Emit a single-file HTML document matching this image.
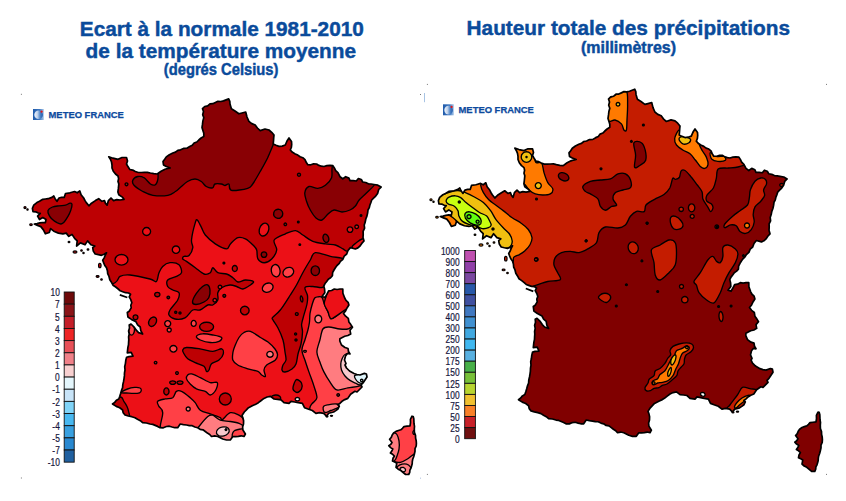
<!DOCTYPE html>
<html><head><meta charset="utf-8"><style>
html,body{margin:0;padding:0;background:#fff}
svg{display:block}
text{font-family:"Liberation Sans",sans-serif}
</style></head><body>
<svg width="846" height="501" viewBox="0 0 846 501">
<defs>
<clipPath id="fr"><path d="M228.7,98.9 L229.8,101.3 L230.0,104.0 L231.4,108.8 L235.0,111.0 L238.9,113.8 L242.0,113.0 L245.7,112.0 L247.0,117.0 L248.9,121.3 L251.8,123.6 L255.2,125.0 L257.4,128.0 L260.2,130.6 L265.0,129.0 L269.0,130.0 L271.7,132.3 L274.0,135.0 L273.7,138.0 L273.5,140.9 L273.2,143.9 L276.0,145.3 L279.0,146.4 L282.2,146.1 L285.3,145.0 L287.0,141.0 L289.0,138.0 L291.5,141.4 L291.7,144.3 L291.4,147.2 L290.3,150.0 L292.5,152.3 L295.3,153.9 L297.8,155.1 L300.1,156.8 L302.8,157.7 L305.0,159.6 L306.2,162.3 L307.8,164.7 L310.8,164.8 L313.6,163.9 L316.6,164.0 L318.9,165.4 L321.4,166.2 L324.0,166.5 L326.9,165.6 L329.9,165.3 L332.9,165.7 L334.5,168.1 L335.7,170.7 L337.9,172.7 L340.0,176.7 L342.8,178.8 L345.7,176.7 L348.9,178.1 L350.0,180.6 L353.2,180.6 L356.3,181.0 L358.4,178.5 L361.3,179.5 L362.7,182.0 L365.7,182.5 L368.4,183.8 L371.2,184.0 L374.0,184.5 L377.8,185.2 L381.1,187.1 L378.7,189.5 L377.6,193.4 L375.7,196.1 L373.3,198.3 L371.7,200.0 L370.9,202.5 L369.9,205.0 L369.3,207.6 L368.0,210.0 L367.6,213.1 L366.9,216.1 L365.8,219.0 L365.2,222.1 L364.2,225.0 L364.6,228.2 L363.1,231.3 L363.2,234.4 L363.0,237.6 L364.0,241.0 L361.8,243.4 L360.0,246.0 L357.9,247.9 L355.4,249.0 L350.4,247.6 L348.0,250.5 L346.7,254.0 L344.2,256.1 L342.9,259.3 L340.4,261.4 L339.0,263.7 L337.0,265.5 L335.4,267.7 L334.0,270.0 L332.6,272.7 L332.4,275.7 L330.6,277.7 L328.3,279.2 L326.7,281.4 L325.0,283.6 L323.8,286.0 L324.6,289.3 L324.8,292.7 L322.0,296.5 L325.0,297.5 L326.9,294.3 L328.6,290.9 L331.6,290.5 L334.3,289.0 L337.1,289.5 L340.0,289.0 L342.8,289.0 L342.9,293.2 L344.7,298.0 L346.0,300.4 L348.1,302.3 L348.9,305.0 L347.0,308.0 L345.6,310.9 L343.5,313.5 L345.6,316.2 L348.3,318.3 L348.9,322.0 L350.8,324.6 L352.5,327.3 L350.0,330.3 L350.7,333.9 L347.9,335.5 L344.7,336.3 L342.3,337.4 L339.9,338.7 L339.8,341.0 L341.5,345.0 L345.0,347.5 L348.0,348.5 L348.5,351.5 L350.0,354.0 L347.5,353.5 L345.5,356.0 L344.5,360.0 L346.0,363.5 L345.0,365.0 L346.5,368.0 L349.5,371.0 L354.0,373.5 L356.9,374.5 L360.0,375.0 L364.4,373.4 L366.4,374.0 L367.0,377.0 L365.0,380.0 L363.0,383.0 L361.0,385.0 L362.0,387.0 L360.0,389.0 L357.0,392.0 L354.9,391.3 L350.6,394.2 L347.8,398.4 L344.8,399.6 L342.0,401.3 L340.1,403.2 L337.9,404.8 L339.3,406.2 L337.9,409.0 L335.8,410.6 L333.6,412.0 L328.7,413.3 L326.5,416.2 L323.7,413.3 L319.4,412.6 L315.9,413.3 L312.3,410.5 L308.0,409.0 L304.5,407.7 L302.4,403.4 L298.2,402.7 L294.6,402.0 L291.0,401.3 L289.0,403.4 L284.0,402.7 L281.0,399.9 L277.5,399.4 L274.0,399.0 L270.5,396.3 L267.1,397.0 L264.0,398.4 L261.2,400.5 L258.4,402.7 L255.7,404.2 L252.8,405.5 L248.5,407.7 L246.4,409.9 L244.3,412.0 L242.0,415.5 L242.9,417.7 L243.6,420.8 L243.5,423.9 L242.6,426.9 L242.9,430.0 L245.4,434.0 L244.0,436.5 L241.2,435.8 L238.4,436.4 L235.6,436.6 L232.8,436.5 L230.3,440.0 L226.5,440.0 L222.8,439.0 L220.3,437.7 L217.8,436.5 L214.7,435.8 L211.5,436.5 L209.7,434.5 L207.4,433.1 L205.3,431.5 L203.0,429.8 L200.1,429.3 L197.7,427.7 L194.9,427.0 L192.2,425.7 L189.3,425.6 L186.5,425.0 L183.3,424.6 L180.2,424.0 L177.7,427.7 L174.8,427.7 L172.1,427.0 L169.3,426.2 L166.4,426.5 L163.3,427.8 L160.0,427.7 L157.6,426.4 L155.2,425.4 L152.7,424.4 L150.0,424.0 L146.4,423.0 L142.6,422.7 L140.3,420.7 L137.5,419.3 L135.0,417.7 L131.7,416.7 L128.3,416.0 L125.0,415.0 L123.2,412.8 L122.6,410.0 L119.7,407.8 L116.3,406.4 L112.5,404.0 L114.7,402.4 L116.4,400.3 L118.8,399.0 L119.8,396.2 L120.7,393.3 L121.5,390.4 L122.6,387.6 L122.8,384.6 L123.5,381.7 L124.0,378.8 L124.4,375.9 L124.5,372.9 L125.0,370.0 L124.7,366.7 L125.4,363.6 L125.8,360.3 L126.6,357.2 L129.0,356.6 L133.0,356.2 L131.2,352.4 L127.3,352.8 L127.6,350.0 L127.9,347.4 L128.5,344.8 L128.6,342.2 L128.8,339.6 L128.6,337.0 L129.2,334.0 L128.6,331.0 L129.5,328.0 L129.2,325.0 L131.0,324.0 L134.4,327.4 L136.3,330.2 L138.6,332.6 L142.6,334.0 L140.8,330.7 L140.2,327.0 L137.6,324.8 L136.0,321.8 L131.4,319.4 L127.9,317.0 L127.3,312.5 L129.2,311.2 L131.2,307.9 L130.8,305.2 L131.8,302.7 L130.8,299.7 L129.2,296.9 L130.5,294.3 L128.6,293.0 L125.6,292.7 L122.7,291.7 L120.2,290.8 L118.2,289.0 L115.7,287.0 L113.0,285.2 L111.5,282.4 L109.8,279.7 L109.0,276.5 L107.7,273.7 L107.4,270.7 L106.5,267.8 L104.8,265.5 L103.7,262.9 L102.7,260.3 L104.2,257.9 L105.2,255.3 L106.5,252.8 L104.1,254.3 L101.5,255.3 L98.3,254.7 L95.2,254.0 L93.3,251.1 L92.7,247.7 L94.8,246.0 L90.9,244.8 L87.6,240.9 L85.0,244.8 L80.5,242.9 L76.6,246.0 L77.2,240.9 L74.6,238.3 L72.0,234.4 L68.8,236.4 L66.2,233.1 L62.9,233.8 L58.4,233.1 L53.8,231.2 L50.6,228.6 L49.3,232.5 L45.4,233.8 L43.4,229.9 L40.8,226.6 L37.5,225.4 L34.3,224.0 L37.1,223.6 L39.8,222.9 L42.6,222.5 L45.4,222.7 L46.0,219.5 L42.8,217.5 L39.5,219.5 L37.6,216.2 L40.2,213.4 L38.2,213.0 L35.7,211.8 L33.0,211.7 L32.4,208.4 L33.7,205.2 L36.9,202.6 L39.5,201.3 L42.8,199.3 L45.4,199.0 L48.0,198.7 L51.9,197.4 L53.8,196.0 L55.1,198.7 L57.0,201.3 L59.0,198.0 L61.6,197.3 L64.2,197.4 L65.5,193.5 L70.0,192.8 L74.6,191.5 L77.2,192.8 L79.8,190.9 L81.1,194.8 L83.7,198.0 L84.9,200.4 L86.3,202.6 L88.9,205.8 L91.5,203.2 L95.4,200.6 L98.7,198.7 L101.9,201.3 L104.5,200.6 L105.4,203.1 L107.1,205.2 L108.4,200.6 L111.0,198.0 L113.6,200.6 L116.8,199.6 L120.1,200.0 L124.0,199.3 L122.7,197.4 L118.8,194.8 L117.9,191.9 L118.3,188.9 L118.8,184.0 L118.0,181.4 L118.6,178.6 L118.0,176.0 L115.5,174.0 L113.3,171.2 L112.0,168.0 L112.0,165.0 L111.5,162.0 L110.4,159.3 L108.8,156.8 L113.0,158.2 L118.0,159.3 L122.0,157.5 L126.5,157.5 L127.5,161.0 L126.5,164.0 L128.1,166.8 L129.8,169.5 L132.7,170.1 L135.3,171.5 L138.3,172.5 L141.3,172.5 L144.4,172.4 L147.4,172.3 L150.4,173.0 L153.8,173.7 L157.2,174.0 L161.1,171.2 L165.0,169.3 L167.6,168.5 L170.2,168.0 L166.3,166.5 L163.5,165.0 L163.0,161.5 L164.7,159.3 L166.3,156.9 L169.4,154.7 L172.8,153.0 L175.5,152.1 L177.8,150.3 L180.6,149.8 L183.5,148.4 L186.9,148.2 L189.7,146.5 L192.3,145.3 L194.1,143.0 L196.8,142.0 L198.8,140.0 L201.1,138.0 L203.8,136.4 L203.8,133.3 L202.9,130.5 L202.0,127.6 L202.5,124.2 L202.9,120.9 L203.8,117.6 L202.7,114.7 L203.5,111.5 L202.5,108.6 L204.7,106.5 L207.7,105.8 L210.0,103.8 L212.8,103.7 L215.4,102.5 L217.9,101.3 L220.8,101.5 L223.5,100.9 L226.1,99.9Z M412.0,416.2 L410.4,419.4 L410.5,422.6 L410.0,425.8 L407.0,426.2 L404.0,426.6 L402.5,428.3 L400.8,429.8 L398.4,430.5 L396.0,431.4 L393.6,433.0 L392.2,435.0 L391.3,437.4 L389.6,439.3 L392.0,442.5 L390.7,444.4 L388.8,445.7 L390.6,447.6 L392.8,449.0 L391.8,451.1 L390.4,453.0 L392.6,454.3 L394.4,456.0 L393.0,458.3 L392.5,461.0 L394.7,462.1 L396.8,463.3 L396.0,467.3 L398.2,469.2 L400.8,470.5 L403.2,472.5 L405.6,474.5 L408.8,474.5 L409.7,472.4 L409.9,470.1 L411.0,468.0 L411.6,465.9 L412.2,463.7 L412.3,461.5 L412.7,459.3 L413.7,456.7 L414.4,454.0 L415.0,451.3 L415.0,448.6 L416.2,446.0 L416.4,443.3 L416.2,440.7 L415.6,438.1 L415.5,435.4 L414.4,432.3 L414.3,429.0 L414.5,426.3 L414.0,423.7 L413.9,421.0 L413.8,418.7 L413.2,416.5Z"/></clipPath>
<clipPath id="fr2"><path d="M228.7,98.9 L229.8,101.3 L230.0,104.0 L231.4,108.8 L235.0,111.0 L238.9,113.8 L242.0,113.0 L245.7,112.0 L247.0,117.0 L248.9,121.3 L251.8,123.6 L255.2,125.0 L257.4,128.0 L260.2,130.6 L265.0,129.0 L269.0,130.0 L271.7,132.3 L274.0,135.0 L273.7,138.0 L273.5,140.9 L273.2,143.9 L276.0,145.3 L279.0,146.4 L282.2,146.1 L285.3,145.0 L287.0,141.0 L289.0,138.0 L291.5,141.4 L291.7,144.3 L291.4,147.2 L290.3,150.0 L292.5,152.3 L295.3,153.9 L297.8,155.1 L300.1,156.8 L302.8,157.7 L305.0,159.6 L306.2,162.3 L307.8,164.7 L310.8,164.8 L313.6,163.9 L316.6,164.0 L318.9,165.4 L321.4,166.2 L324.0,166.5 L326.9,165.6 L329.9,165.3 L332.9,165.7 L334.5,168.1 L335.7,170.7 L337.9,172.7 L340.0,176.7 L342.8,178.8 L345.7,176.7 L348.9,178.1 L350.0,180.6 L353.2,180.6 L356.3,181.0 L358.4,178.5 L361.3,179.5 L362.7,182.0 L365.7,182.5 L368.4,183.8 L371.2,184.0 L374.0,184.5 L377.8,185.2 L381.1,187.1 L378.7,189.5 L377.6,193.4 L375.7,196.1 L373.3,198.3 L371.7,200.0 L370.9,202.5 L369.9,205.0 L369.3,207.6 L368.0,210.0 L367.6,213.1 L366.9,216.1 L365.8,219.0 L365.2,222.1 L364.2,225.0 L364.6,228.2 L363.1,231.3 L363.2,234.4 L363.0,237.6 L364.0,241.0 L361.8,243.4 L360.0,246.0 L357.9,247.9 L355.4,249.0 L350.4,247.6 L348.0,250.5 L346.7,254.0 L344.2,256.1 L342.9,259.3 L340.4,261.4 L339.0,263.7 L337.0,265.5 L335.4,267.7 L334.0,270.0 L332.6,272.7 L332.4,275.7 L330.6,277.7 L328.3,279.2 L326.7,281.4 L325.0,283.6 L323.8,286.0 L324.6,289.3 L324.8,292.7 L322.0,296.5 L325.0,297.5 L326.9,294.3 L328.6,290.9 L331.6,290.5 L334.3,289.0 L337.1,289.5 L340.0,289.0 L342.8,289.0 L342.9,293.2 L344.7,298.0 L346.0,300.4 L348.1,302.3 L348.9,305.0 L347.0,308.0 L345.6,310.9 L343.5,313.5 L345.6,316.2 L348.3,318.3 L348.9,322.0 L350.8,324.6 L352.5,327.3 L350.0,330.3 L350.7,333.9 L347.9,335.5 L344.7,336.3 L342.3,337.4 L339.9,338.7 L339.8,341.0 L341.5,345.0 L345.0,347.5 L348.0,348.5 L348.5,351.5 L350.0,354.0 L347.5,353.5 L345.5,356.0 L344.5,360.0 L346.0,363.5 L345.0,365.0 L346.5,368.0 L349.5,371.0 L354.0,373.5 L356.9,374.5 L360.0,375.0 L364.4,373.4 L366.4,374.0 L367.0,377.0 L365.0,380.0 L363.0,383.0 L361.0,385.0 L362.0,387.0 L360.0,389.0 L357.0,392.0 L354.9,391.3 L350.6,394.2 L347.8,398.4 L344.8,399.6 L342.0,401.3 L340.1,403.2 L337.9,404.8 L339.3,406.2 L337.9,409.0 L335.8,410.6 L333.6,412.0 L328.7,413.3 L326.5,416.2 L323.7,413.3 L319.4,412.6 L315.9,413.3 L312.3,410.5 L308.0,409.0 L304.5,407.7 L302.4,403.4 L298.2,402.7 L294.6,402.0 L291.0,401.3 L289.0,403.4 L284.0,402.7 L281.0,399.9 L277.5,399.4 L274.0,399.0 L270.5,396.3 L267.1,397.0 L264.0,398.4 L261.2,400.5 L258.4,402.7 L255.7,404.2 L252.8,405.5 L248.5,407.7 L246.4,409.9 L244.3,412.0 L242.0,415.5 L242.9,417.7 L243.6,420.8 L243.5,423.9 L242.6,426.9 L242.9,430.0 L245.4,434.0 L244.0,436.5 L241.2,435.8 L238.4,436.4 L235.6,436.6 L232.8,436.5 L230.3,440.0 L226.5,440.0 L222.8,439.0 L220.3,437.7 L217.8,436.5 L214.7,435.8 L211.5,436.5 L209.7,434.5 L207.4,433.1 L205.3,431.5 L203.0,429.8 L200.1,429.3 L197.7,427.7 L194.9,427.0 L192.2,425.7 L189.3,425.6 L186.5,425.0 L183.3,424.6 L180.2,424.0 L177.7,427.7 L174.8,427.7 L172.1,427.0 L169.3,426.2 L166.4,426.5 L163.3,427.8 L160.0,427.7 L157.6,426.4 L155.2,425.4 L152.7,424.4 L150.0,424.0 L146.4,423.0 L142.6,422.7 L140.3,420.7 L137.5,419.3 L135.0,417.7 L131.7,416.7 L128.3,416.0 L125.0,415.0 L123.2,412.8 L122.6,410.0 L119.7,407.8 L116.3,406.4 L112.5,404.0 L114.7,402.4 L116.4,400.3 L118.8,399.0 L119.8,396.2 L120.7,393.3 L121.5,390.4 L122.6,387.6 L122.8,384.6 L123.5,381.7 L124.0,378.8 L124.4,375.9 L124.5,372.9 L125.0,370.0 L124.7,366.7 L125.4,363.6 L125.8,360.3 L126.6,357.2 L129.0,356.6 L133.0,356.2 L131.2,352.4 L127.3,352.8 L127.6,350.0 L127.9,347.4 L128.5,344.8 L128.6,342.2 L128.8,339.6 L128.6,337.0 L129.2,334.0 L128.6,331.0 L129.5,328.0 L129.2,325.0 L131.0,324.0 L134.4,327.4 L136.3,330.2 L138.6,332.6 L142.6,334.0 L140.8,330.7 L140.2,327.0 L137.6,324.8 L136.0,321.8 L131.4,319.4 L127.9,317.0 L127.3,312.5 L129.2,311.2 L131.2,307.9 L130.8,305.2 L131.8,302.7 L130.8,299.7 L129.2,296.9 L130.5,294.3 L128.6,293.0 L125.6,292.7 L122.7,291.7 L120.2,290.8 L118.2,289.0 L115.7,287.0 L113.0,285.2 L111.5,282.4 L109.8,279.7 L109.0,276.5 L107.7,273.7 L107.4,270.7 L106.5,267.8 L104.8,265.5 L103.7,262.9 L102.7,260.3 L104.2,257.9 L105.2,255.3 L106.5,252.8 L104.1,254.3 L101.5,255.3 L98.3,254.7 L95.2,254.0 L93.3,251.1 L92.7,247.7 L94.8,246.0 L90.9,244.8 L87.6,240.9 L85.0,244.8 L80.5,242.9 L76.6,246.0 L77.2,240.9 L74.6,238.3 L72.0,234.4 L68.8,236.4 L66.2,233.1 L62.9,233.8 L58.4,233.1 L53.8,231.2 L50.6,228.6 L49.3,232.5 L45.4,233.8 L43.4,229.9 L40.8,226.6 L37.5,225.4 L34.3,224.0 L37.1,223.6 L39.8,222.9 L42.6,222.5 L45.4,222.7 L46.0,219.5 L42.8,217.5 L39.5,219.5 L37.6,216.2 L40.2,213.4 L38.2,213.0 L35.7,211.8 L33.0,211.7 L32.4,208.4 L33.7,205.2 L36.9,202.6 L39.5,201.3 L42.8,199.3 L45.4,199.0 L48.0,198.7 L51.9,197.4 L53.8,196.0 L55.1,198.7 L57.0,201.3 L59.0,198.0 L61.6,197.3 L64.2,197.4 L65.5,193.5 L70.0,192.8 L74.6,191.5 L77.2,192.8 L79.8,190.9 L81.1,194.8 L83.7,198.0 L84.9,200.4 L86.3,202.6 L88.9,205.8 L91.5,203.2 L95.4,200.6 L98.7,198.7 L101.9,201.3 L104.5,200.6 L105.4,203.1 L107.1,205.2 L108.4,200.6 L111.0,198.0 L113.6,200.6 L116.8,199.6 L120.1,200.0 L124.0,199.3 L122.7,197.4 L118.8,194.8 L117.9,191.9 L118.3,188.9 L118.8,184.0 L118.0,181.4 L118.6,178.6 L118.0,176.0 L115.5,174.0 L113.3,171.2 L112.0,168.0 L112.0,165.0 L111.5,162.0 L110.4,159.3 L108.8,156.8 L113.0,158.2 L118.0,159.3 L122.0,157.5 L126.5,157.5 L127.5,161.0 L126.5,164.0 L128.1,166.8 L129.8,169.5 L132.7,170.1 L135.3,171.5 L138.3,172.5 L141.3,172.5 L144.4,172.4 L147.4,172.3 L150.4,173.0 L153.8,173.7 L157.2,174.0 L161.1,171.2 L165.0,169.3 L167.6,168.5 L170.2,168.0 L166.3,166.5 L163.5,165.0 L163.0,161.5 L164.7,159.3 L166.3,156.9 L169.4,154.7 L172.8,153.0 L175.5,152.1 L177.8,150.3 L180.6,149.8 L183.5,148.4 L186.9,148.2 L189.7,146.5 L192.3,145.3 L194.1,143.0 L196.8,142.0 L198.8,140.0 L201.1,138.0 L203.8,136.4 L203.8,133.3 L202.9,130.5 L202.0,127.6 L202.5,124.2 L202.9,120.9 L203.8,117.6 L202.7,114.7 L203.5,111.5 L202.5,108.6 L204.7,106.5 L207.7,105.8 L210.0,103.8 L212.8,103.7 L215.4,102.5 L217.9,101.3 L220.8,101.5 L223.5,100.9 L226.1,99.9Z M412.0,416.2 L410.4,419.4 L410.5,422.6 L410.0,425.8 L407.0,426.2 L404.0,426.6 L402.5,428.3 L400.8,429.8 L398.4,430.5 L396.0,431.4 L393.6,433.0 L392.2,435.0 L391.3,437.4 L389.6,439.3 L392.0,442.5 L390.7,444.4 L388.8,445.7 L390.6,447.6 L392.8,449.0 L391.8,451.1 L390.4,453.0 L392.6,454.3 L394.4,456.0 L393.0,458.3 L392.5,461.0 L394.7,462.1 L396.8,463.3 L396.0,467.3 L398.2,469.2 L400.8,470.5 L403.2,472.5 L405.6,474.5 L408.8,474.5 L409.7,472.4 L409.9,470.1 L411.0,468.0 L411.6,465.9 L412.2,463.7 L412.3,461.5 L412.7,459.3 L413.7,456.7 L414.4,454.0 L415.0,451.3 L415.0,448.6 L416.2,446.0 L416.4,443.3 L416.2,440.7 L415.6,438.1 L415.5,435.4 L414.4,432.3 L414.3,429.0 L414.5,426.3 L414.0,423.7 L413.9,421.0 L413.8,418.7 L413.2,416.5Z" transform="translate(406,-11.44) scale(1,1.0176)"/></clipPath>
<path id="ol" d="M228.7,98.9 L229.8,101.3 L230.0,104.0 L231.4,108.8 L235.0,111.0 L238.9,113.8 L242.0,113.0 L245.7,112.0 L247.0,117.0 L248.9,121.3 L251.8,123.6 L255.2,125.0 L257.4,128.0 L260.2,130.6 L265.0,129.0 L269.0,130.0 L271.7,132.3 L274.0,135.0 L273.7,138.0 L273.5,140.9 L273.2,143.9 L276.0,145.3 L279.0,146.4 L282.2,146.1 L285.3,145.0 L287.0,141.0 L289.0,138.0 L291.5,141.4 L291.7,144.3 L291.4,147.2 L290.3,150.0 L292.5,152.3 L295.3,153.9 L297.8,155.1 L300.1,156.8 L302.8,157.7 L305.0,159.6 L306.2,162.3 L307.8,164.7 L310.8,164.8 L313.6,163.9 L316.6,164.0 L318.9,165.4 L321.4,166.2 L324.0,166.5 L326.9,165.6 L329.9,165.3 L332.9,165.7 L334.5,168.1 L335.7,170.7 L337.9,172.7 L340.0,176.7 L342.8,178.8 L345.7,176.7 L348.9,178.1 L350.0,180.6 L353.2,180.6 L356.3,181.0 L358.4,178.5 L361.3,179.5 L362.7,182.0 L365.7,182.5 L368.4,183.8 L371.2,184.0 L374.0,184.5 L377.8,185.2 L381.1,187.1 L378.7,189.5 L377.6,193.4 L375.7,196.1 L373.3,198.3 L371.7,200.0 L370.9,202.5 L369.9,205.0 L369.3,207.6 L368.0,210.0 L367.6,213.1 L366.9,216.1 L365.8,219.0 L365.2,222.1 L364.2,225.0 L364.6,228.2 L363.1,231.3 L363.2,234.4 L363.0,237.6 L364.0,241.0 L361.8,243.4 L360.0,246.0 L357.9,247.9 L355.4,249.0 L350.4,247.6 L348.0,250.5 L346.7,254.0 L344.2,256.1 L342.9,259.3 L340.4,261.4 L339.0,263.7 L337.0,265.5 L335.4,267.7 L334.0,270.0 L332.6,272.7 L332.4,275.7 L330.6,277.7 L328.3,279.2 L326.7,281.4 L325.0,283.6 L323.8,286.0 L324.6,289.3 L324.8,292.7 L322.0,296.5 L325.0,297.5 L326.9,294.3 L328.6,290.9 L331.6,290.5 L334.3,289.0 L337.1,289.5 L340.0,289.0 L342.8,289.0 L342.9,293.2 L344.7,298.0 L346.0,300.4 L348.1,302.3 L348.9,305.0 L347.0,308.0 L345.6,310.9 L343.5,313.5 L345.6,316.2 L348.3,318.3 L348.9,322.0 L350.8,324.6 L352.5,327.3 L350.0,330.3 L350.7,333.9 L347.9,335.5 L344.7,336.3 L342.3,337.4 L339.9,338.7 L339.8,341.0 L341.5,345.0 L345.0,347.5 L348.0,348.5 L348.5,351.5 L350.0,354.0 L347.5,353.5 L345.5,356.0 L344.5,360.0 L346.0,363.5 L345.0,365.0 L346.5,368.0 L349.5,371.0 L354.0,373.5 L356.9,374.5 L360.0,375.0 L364.4,373.4 L366.4,374.0 L367.0,377.0 L365.0,380.0 L363.0,383.0 L361.0,385.0 L362.0,387.0 L360.0,389.0 L357.0,392.0 L354.9,391.3 L350.6,394.2 L347.8,398.4 L344.8,399.6 L342.0,401.3 L340.1,403.2 L337.9,404.8 L339.3,406.2 L337.9,409.0 L335.8,410.6 L333.6,412.0 L328.7,413.3 L326.5,416.2 L323.7,413.3 L319.4,412.6 L315.9,413.3 L312.3,410.5 L308.0,409.0 L304.5,407.7 L302.4,403.4 L298.2,402.7 L294.6,402.0 L291.0,401.3 L289.0,403.4 L284.0,402.7 L281.0,399.9 L277.5,399.4 L274.0,399.0 L270.5,396.3 L267.1,397.0 L264.0,398.4 L261.2,400.5 L258.4,402.7 L255.7,404.2 L252.8,405.5 L248.5,407.7 L246.4,409.9 L244.3,412.0 L242.0,415.5 L242.9,417.7 L243.6,420.8 L243.5,423.9 L242.6,426.9 L242.9,430.0 L245.4,434.0 L244.0,436.5 L241.2,435.8 L238.4,436.4 L235.6,436.6 L232.8,436.5 L230.3,440.0 L226.5,440.0 L222.8,439.0 L220.3,437.7 L217.8,436.5 L214.7,435.8 L211.5,436.5 L209.7,434.5 L207.4,433.1 L205.3,431.5 L203.0,429.8 L200.1,429.3 L197.7,427.7 L194.9,427.0 L192.2,425.7 L189.3,425.6 L186.5,425.0 L183.3,424.6 L180.2,424.0 L177.7,427.7 L174.8,427.7 L172.1,427.0 L169.3,426.2 L166.4,426.5 L163.3,427.8 L160.0,427.7 L157.6,426.4 L155.2,425.4 L152.7,424.4 L150.0,424.0 L146.4,423.0 L142.6,422.7 L140.3,420.7 L137.5,419.3 L135.0,417.7 L131.7,416.7 L128.3,416.0 L125.0,415.0 L123.2,412.8 L122.6,410.0 L119.7,407.8 L116.3,406.4 L112.5,404.0 L114.7,402.4 L116.4,400.3 L118.8,399.0 L119.8,396.2 L120.7,393.3 L121.5,390.4 L122.6,387.6 L122.8,384.6 L123.5,381.7 L124.0,378.8 L124.4,375.9 L124.5,372.9 L125.0,370.0 L124.7,366.7 L125.4,363.6 L125.8,360.3 L126.6,357.2 L129.0,356.6 L133.0,356.2 L131.2,352.4 L127.3,352.8 L127.6,350.0 L127.9,347.4 L128.5,344.8 L128.6,342.2 L128.8,339.6 L128.6,337.0 L129.2,334.0 L128.6,331.0 L129.5,328.0 L129.2,325.0 L131.0,324.0 L134.4,327.4 L136.3,330.2 L138.6,332.6 L142.6,334.0 L140.8,330.7 L140.2,327.0 L137.6,324.8 L136.0,321.8 L131.4,319.4 L127.9,317.0 L127.3,312.5 L129.2,311.2 L131.2,307.9 L130.8,305.2 L131.8,302.7 L130.8,299.7 L129.2,296.9 L130.5,294.3 L128.6,293.0 L125.6,292.7 L122.7,291.7 L120.2,290.8 L118.2,289.0 L115.7,287.0 L113.0,285.2 L111.5,282.4 L109.8,279.7 L109.0,276.5 L107.7,273.7 L107.4,270.7 L106.5,267.8 L104.8,265.5 L103.7,262.9 L102.7,260.3 L104.2,257.9 L105.2,255.3 L106.5,252.8 L104.1,254.3 L101.5,255.3 L98.3,254.7 L95.2,254.0 L93.3,251.1 L92.7,247.7 L94.8,246.0 L90.9,244.8 L87.6,240.9 L85.0,244.8 L80.5,242.9 L76.6,246.0 L77.2,240.9 L74.6,238.3 L72.0,234.4 L68.8,236.4 L66.2,233.1 L62.9,233.8 L58.4,233.1 L53.8,231.2 L50.6,228.6 L49.3,232.5 L45.4,233.8 L43.4,229.9 L40.8,226.6 L37.5,225.4 L34.3,224.0 L37.1,223.6 L39.8,222.9 L42.6,222.5 L45.4,222.7 L46.0,219.5 L42.8,217.5 L39.5,219.5 L37.6,216.2 L40.2,213.4 L38.2,213.0 L35.7,211.8 L33.0,211.7 L32.4,208.4 L33.7,205.2 L36.9,202.6 L39.5,201.3 L42.8,199.3 L45.4,199.0 L48.0,198.7 L51.9,197.4 L53.8,196.0 L55.1,198.7 L57.0,201.3 L59.0,198.0 L61.6,197.3 L64.2,197.4 L65.5,193.5 L70.0,192.8 L74.6,191.5 L77.2,192.8 L79.8,190.9 L81.1,194.8 L83.7,198.0 L84.9,200.4 L86.3,202.6 L88.9,205.8 L91.5,203.2 L95.4,200.6 L98.7,198.7 L101.9,201.3 L104.5,200.6 L105.4,203.1 L107.1,205.2 L108.4,200.6 L111.0,198.0 L113.6,200.6 L116.8,199.6 L120.1,200.0 L124.0,199.3 L122.7,197.4 L118.8,194.8 L117.9,191.9 L118.3,188.9 L118.8,184.0 L118.0,181.4 L118.6,178.6 L118.0,176.0 L115.5,174.0 L113.3,171.2 L112.0,168.0 L112.0,165.0 L111.5,162.0 L110.4,159.3 L108.8,156.8 L113.0,158.2 L118.0,159.3 L122.0,157.5 L126.5,157.5 L127.5,161.0 L126.5,164.0 L128.1,166.8 L129.8,169.5 L132.7,170.1 L135.3,171.5 L138.3,172.5 L141.3,172.5 L144.4,172.4 L147.4,172.3 L150.4,173.0 L153.8,173.7 L157.2,174.0 L161.1,171.2 L165.0,169.3 L167.6,168.5 L170.2,168.0 L166.3,166.5 L163.5,165.0 L163.0,161.5 L164.7,159.3 L166.3,156.9 L169.4,154.7 L172.8,153.0 L175.5,152.1 L177.8,150.3 L180.6,149.8 L183.5,148.4 L186.9,148.2 L189.7,146.5 L192.3,145.3 L194.1,143.0 L196.8,142.0 L198.8,140.0 L201.1,138.0 L203.8,136.4 L203.8,133.3 L202.9,130.5 L202.0,127.6 L202.5,124.2 L202.9,120.9 L203.8,117.6 L202.7,114.7 L203.5,111.5 L202.5,108.6 L204.7,106.5 L207.7,105.8 L210.0,103.8 L212.8,103.7 L215.4,102.5 L217.9,101.3 L220.8,101.5 L223.5,100.9 L226.1,99.9Z M412.0,416.2 L410.4,419.4 L410.5,422.6 L410.0,425.8 L407.0,426.2 L404.0,426.6 L402.5,428.3 L400.8,429.8 L398.4,430.5 L396.0,431.4 L393.6,433.0 L392.2,435.0 L391.3,437.4 L389.6,439.3 L392.0,442.5 L390.7,444.4 L388.8,445.7 L390.6,447.6 L392.8,449.0 L391.8,451.1 L390.4,453.0 L392.6,454.3 L394.4,456.0 L393.0,458.3 L392.5,461.0 L394.7,462.1 L396.8,463.3 L396.0,467.3 L398.2,469.2 L400.8,470.5 L403.2,472.5 L405.6,474.5 L408.8,474.5 L409.7,472.4 L409.9,470.1 L411.0,468.0 L411.6,465.9 L412.2,463.7 L412.3,461.5 L412.7,459.3 L413.7,456.7 L414.4,454.0 L415.0,451.3 L415.0,448.6 L416.2,446.0 L416.4,443.3 L416.2,440.7 L415.6,438.1 L415.5,435.4 L414.4,432.3 L414.3,429.0 L414.5,426.3 L414.0,423.7 L413.9,421.0 L413.8,418.7 L413.2,416.5Z"/>
</defs>
<rect width="846" height="501" fill="#fff"/>
<g>
<g clip-path="url(#fr)" stroke="#000" stroke-width="1.35" stroke-linejoin="round">
<rect x="0" y="60" width="440" height="440" fill="#ec1017" stroke="none"/>
<path d="M95.0,292.0 C98.3,290.4 110.8,285.3 115.0,282.7 C119.2,280.1 117.5,277.7 120.0,276.4 C122.5,275.1 125.0,274.6 130.0,275.0 C135.0,275.4 145.6,277.9 150.0,279.0 C154.4,280.1 154.9,282.6 156.4,281.5 C157.9,280.4 157.9,275.2 159.0,272.7 C160.1,270.2 160.9,268.1 162.7,266.4 C164.5,264.7 167.3,263.0 170.0,262.7 C172.7,262.4 177.1,263.0 179.0,264.7 C180.9,266.4 181.9,270.8 181.5,272.7 C181.1,274.6 178.8,275.2 176.5,276.4 C174.2,277.6 169.2,278.3 167.7,280.0 C166.2,281.7 166.9,284.8 167.7,286.5 C168.5,288.2 170.8,289.0 172.7,290.0 C174.6,291.0 178.2,291.0 179.0,292.7 C179.8,294.4 179.2,297.1 177.7,300.0 C176.2,302.9 171.4,307.5 170.0,310.0 C168.6,312.5 168.2,313.5 169.0,315.0 C169.8,316.5 172.3,318.5 175.0,319.0 C177.7,319.5 182.0,319.3 185.0,317.8 C188.0,316.3 190.3,311.3 192.8,310.0 C195.3,308.7 197.5,310.8 200.0,310.0 C202.5,309.2 205.7,305.8 207.8,305.0 C209.9,304.2 211.1,305.8 212.8,305.0 C214.5,304.2 217.0,302.1 217.8,300.0 C218.6,297.9 217.2,294.8 217.8,292.7 C218.4,290.6 219.6,289.0 221.6,287.7 C223.6,286.4 227.5,285.2 230.0,285.0 C232.5,284.8 234.4,285.8 236.6,286.5 C238.8,287.2 240.6,289.2 242.9,289.0 C245.2,288.8 248.7,286.2 250.4,285.0 C252.2,283.8 254.2,282.3 253.4,281.5 C252.6,280.7 248.0,279.9 245.4,280.0 C242.8,280.1 240.0,282.4 237.9,282.0 C235.8,281.6 234.8,279.0 232.9,277.7 C231.0,276.4 229.1,274.8 226.6,274.0 C224.1,273.2 220.1,273.8 217.8,272.7 C215.5,271.6 214.1,267.7 212.8,267.7 C211.6,267.7 211.8,271.6 210.3,272.7 C208.8,273.8 206.5,274.8 204.0,274.0 C201.5,273.2 198.2,269.8 195.3,267.7 C192.4,265.6 188.6,262.9 186.5,261.4 C184.4,259.9 183.1,259.7 182.7,258.9 C182.3,258.1 182.9,256.9 184.0,256.4 C185.1,255.8 187.5,257.1 189.0,255.6 C190.5,254.1 192.4,250.2 192.8,247.6 C193.2,245.0 191.1,244.2 191.5,240.0 C191.9,235.8 194.3,225.9 195.3,222.6 C196.3,219.3 196.3,219.2 197.3,220.0 C198.3,220.8 200.2,225.1 201.5,227.6 C202.8,230.1 203.0,232.3 205.3,235.0 C207.6,237.7 211.8,241.6 215.3,243.9 C218.9,246.2 224.1,248.9 226.6,248.9 C229.1,248.9 228.5,245.8 230.4,243.9 C232.3,242.0 235.4,238.4 237.9,237.6 C240.4,236.8 242.9,237.6 245.4,238.8 C247.9,240.0 251.0,243.1 252.9,245.0 C254.8,246.9 255.9,247.7 256.7,250.0 C257.5,252.3 256.6,256.8 257.9,258.9 C259.1,261.0 261.9,262.7 264.2,262.7 C266.5,262.7 269.6,261.0 271.7,258.9 C273.8,256.8 276.3,253.2 276.7,250.0 C277.1,246.8 272.7,242.7 274.2,240.0 C275.7,237.3 281.9,235.4 285.5,233.8 C289.1,232.2 292.6,230.4 295.5,230.6 C298.4,230.8 299.9,233.2 302.8,235.0 C305.7,236.8 309.0,239.9 312.8,241.4 C316.6,242.9 321.6,243.3 325.4,243.9 C329.2,244.5 332.5,244.2 335.4,245.0 C338.3,245.8 340.9,247.8 343.0,248.9 C345.1,250.0 344.3,250.9 348.0,251.4 C351.7,251.9 362.2,251.9 365.0,252.0 L420,252 L420,60 L0,60 L0,292 Z" fill="#bd0003"/>
<path d="M274.0,143.0 C272.9,145.4 270.0,152.9 267.7,157.7 C265.4,162.4 262.7,167.1 260.2,171.5 C257.7,175.9 254.8,181.2 252.7,184.0 C250.6,186.8 251.2,187.2 247.7,188.3 C244.1,189.4 234.5,191.0 231.4,190.3 C228.3,189.6 230.0,184.8 228.9,184.0 C227.8,183.2 226.2,185.5 225.0,185.5 C223.8,185.5 223.1,184.2 221.4,184.0 C219.7,183.8 216.5,183.4 215.0,184.0 C213.5,184.6 214.0,187.4 212.6,187.8 C211.2,188.2 208.2,187.6 206.3,186.5 C204.4,185.4 203.2,182.8 201.3,181.5 C199.4,180.2 197.3,179.0 195.0,179.0 C192.7,179.0 190.0,180.0 187.5,181.5 C185.0,183.0 182.0,186.1 180.0,187.8 C178.0,189.5 177.4,190.2 175.4,191.5 C173.4,192.8 171.7,194.7 167.9,195.3 C164.2,195.9 157.1,195.9 152.9,195.3 C148.7,194.7 146.0,193.2 142.8,191.5 C139.7,189.8 135.7,187.2 134.0,185.3 C132.3,183.4 132.2,181.7 132.8,180.2 C133.4,178.7 135.9,176.9 137.8,176.5 C139.7,176.1 141.9,176.4 144.0,177.7 C146.1,178.9 148.5,182.8 150.4,184.0 C152.3,185.2 154.2,185.5 155.4,184.7 C156.7,183.9 157.5,181.1 157.9,179.0 C158.3,176.9 158.0,173.2 158.0,172.0 L158,140 L200,90 L240,90 L280,130 Z" fill="#890004"/>
<path d="M333.5,164.0 C330.4,166.9 333.0,174.1 331.6,177.7 C330.2,181.2 327.7,183.5 325.4,185.3 C323.1,187.1 320.5,188.1 317.8,188.3 C315.1,188.5 311.2,185.8 309.0,186.5 C306.8,187.2 305.2,190.3 304.8,192.8 C304.4,195.3 305.7,198.6 306.6,201.5 C307.5,204.4 308.7,207.2 310.3,210.0 C311.9,212.8 314.1,216.3 316.0,218.0 C317.9,219.7 320.0,220.7 322.0,220.0 C324.0,219.3 326.0,215.7 328.0,214.0 C330.0,212.3 331.7,210.3 334.0,210.0 C336.3,209.7 339.3,212.0 342.0,212.0 C344.7,212.0 347.8,211.0 350.0,210.0 C352.2,209.0 353.9,207.7 355.4,206.0 C356.9,204.3 357.3,202.2 359.2,200.0 C361.1,197.8 364.1,195.5 366.7,192.8 C369.3,190.1 372.8,187.8 375.0,184.0 C377.2,180.2 384.2,174.0 380.0,170.0 C375.8,166.0 357.8,161.0 350.0,160.0 C342.2,159.0 336.6,161.1 333.5,164.0Z" fill="#890004"/>
<path d="M315.3,252.6 C318.6,252.0 325.4,255.2 330.4,256.4 C335.3,257.6 343.7,257.4 345.0,260.0 C346.3,262.6 340.8,268.0 338.0,272.0 C335.2,276.0 330.7,281.4 328.0,284.0 C325.3,286.6 324.5,287.1 322.0,287.5 C319.5,287.9 315.6,286.5 312.8,286.5 C310.0,286.5 305.9,286.0 305.0,287.5 C304.1,289.0 307.2,292.9 307.5,295.6 C307.8,298.4 307.6,300.8 307.0,304.0 C306.4,307.2 304.9,311.3 304.0,314.7 C303.1,318.1 301.9,321.4 301.6,324.3 C301.4,327.2 302.6,328.7 302.5,332.0 C302.4,335.3 301.8,340.3 301.0,344.0 C300.2,347.7 298.8,350.7 298.0,354.0 C297.2,357.3 297.0,361.5 296.0,364.0 C295.0,366.5 293.8,367.7 292.0,369.0 C290.2,370.3 286.7,371.8 285.0,372.0 C283.3,372.2 282.3,371.2 282.0,370.0 C281.7,368.8 282.3,366.7 283.0,365.0 C283.7,363.3 285.7,362.2 286.0,360.0 C286.3,357.8 285.5,355.3 285.0,352.0 C284.5,348.7 284.2,344.0 283.0,340.0 C281.8,336.0 279.7,331.3 278.0,328.0 C276.3,324.7 273.9,321.8 273.0,320.0 C272.1,318.2 271.5,319.1 272.7,317.4 C273.9,315.7 277.4,313.7 280.3,310.0 C283.2,306.3 287.6,299.2 290.3,295.0 C293.0,290.8 294.4,288.7 296.5,285.0 C298.6,281.3 300.5,276.9 302.8,272.7 C305.1,268.5 308.2,263.4 310.3,260.0 C312.4,256.6 312.0,253.2 315.3,252.6Z" fill="#bd0003"/>
<path d="M314.7,298.0 C315.7,296.8 317.1,296.9 318.3,296.8 C319.5,296.7 321.0,296.3 322.0,297.5 C323.0,298.7 323.3,301.6 324.3,304.0 C325.3,306.4 326.6,309.6 328.0,312.0 C329.4,314.4 329.5,319.0 332.7,318.3 C335.9,317.6 343.1,309.1 347.0,308.0 C350.9,306.9 353.8,308.3 356.0,312.0 C358.2,315.7 360.0,324.5 360.0,330.0 C360.0,335.5 353.5,338.3 356.0,345.0 C358.5,351.7 372.7,362.5 375.0,370.0 C377.3,377.5 375.0,383.3 370.0,390.0 C365.0,396.7 351.7,405.3 345.0,410.0 C338.3,414.7 335.5,417.7 330.0,418.0 C324.5,418.3 315.4,413.7 312.0,412.0 C308.6,410.3 309.9,409.2 309.9,407.8 C309.9,406.4 310.7,405.5 311.9,403.8 C313.1,402.1 316.6,400.8 316.9,397.8 C317.2,394.8 315.2,390.2 313.9,385.9 C312.6,381.6 310.4,376.2 308.9,371.9 C307.4,367.6 306.1,363.6 304.9,360.0 C303.7,356.4 301.9,353.3 301.9,350.0 C301.9,346.7 303.9,343.3 304.9,340.0 C305.9,336.7 307.1,333.0 307.9,330.0 C308.7,327.0 309.1,324.8 309.5,322.0 C309.9,319.2 309.5,316.5 310.0,313.5 C310.5,310.5 311.5,306.6 312.3,304.0 C313.1,301.4 313.7,299.2 314.7,298.0Z" fill="#ff4046"/>
<path d="M326.0,296.8 C326.5,294.8 326.2,293.3 327.3,292.0 C328.4,290.7 330.2,289.8 332.7,289.0 C335.2,288.2 339.4,286.8 342.3,287.0 C345.2,287.2 348.4,287.0 350.0,290.0 C351.6,293.0 352.5,301.9 352.0,305.0 C351.5,308.1 350.2,306.3 347.0,308.5 C343.8,310.7 335.6,316.9 332.7,318.3 C329.8,319.7 330.5,318.1 329.7,317.0 C328.9,315.9 328.9,313.9 328.0,311.7 C327.1,309.5 324.6,306.5 324.3,304.0 C324.0,301.5 325.5,298.8 326.0,296.8Z" fill="#ec1017"/>
<path d="M322.9,329.0 C324.4,326.8 326.1,327.0 328.9,327.0 C331.7,327.0 336.6,328.7 339.8,329.0 C343.0,329.3 345.1,329.5 347.8,329.0 C350.5,328.5 353.1,323.3 356.0,326.0 C358.9,328.7 362.3,337.3 365.0,345.0 C367.7,352.7 371.5,365.8 372.0,372.0 C372.5,378.2 370.0,379.7 368.0,382.0 C366.0,384.3 363.2,384.9 359.8,385.9 C356.4,386.9 351.6,387.2 347.8,387.9 C344.0,388.6 339.8,390.9 336.8,389.9 C333.8,388.9 332.0,384.9 329.9,381.9 C327.8,378.9 325.6,375.2 323.9,371.9 C322.2,368.6 321.1,365.3 319.9,362.0 C318.7,358.7 316.9,355.7 316.9,352.0 C316.9,348.3 318.9,343.8 319.9,340.0 C320.9,336.2 321.4,331.2 322.9,329.0Z" fill="#ff7c80"/>
<path d="M345.0,354.5 C343.3,355.3 342.7,357.4 342.0,359.0 C341.3,360.6 340.9,362.2 340.8,364.0 C340.7,365.8 340.8,368.0 341.5,370.0 C342.2,372.0 343.6,374.3 345.0,376.0 C346.4,377.7 348.2,379.2 350.0,380.4 C351.8,381.6 354.3,382.6 356.0,383.4 C357.7,384.2 358.0,384.9 360.0,385.0 C362.0,385.1 366.0,386.2 368.0,384.0 C370.0,381.8 374.2,375.7 372.0,372.0 C369.8,368.3 358.3,365.0 355.0,362.0 C351.7,359.0 353.7,355.2 352.0,354.0 C350.3,352.8 346.7,353.7 345.0,354.5Z" fill="#f8c8cc"/>
<path d="M354.5,376.0 C354.7,375.3 354.9,375.7 356.5,375.0 C358.1,374.3 362.1,372.5 364.4,372.0 C366.6,371.5 369.1,371.0 370.0,372.0 C370.9,373.0 370.8,376.5 370.0,378.0 C369.2,379.5 366.2,380.2 365.0,381.0 C363.8,381.8 363.7,382.1 363.0,382.5 C362.3,382.9 361.8,383.5 361.0,383.4 C360.2,383.3 358.9,382.7 358.0,382.0 C357.1,381.3 356.1,380.0 355.5,379.0 C354.9,378.0 354.3,376.7 354.5,376.0Z" fill="#e0f6fc"/>
<path d="M362.9,380.4 C362.9,380.7 362.7,381.0 362.5,381.2 C362.3,381.4 362.0,381.6 361.7,381.6 C361.4,381.6 361.1,381.4 360.9,381.2 C360.7,381.0 360.5,380.7 360.5,380.4 C360.5,380.1 360.7,379.8 360.9,379.6 C361.1,379.4 361.4,379.2 361.7,379.2 C362.0,379.2 362.3,379.4 362.5,379.6 C362.7,379.8 362.9,380.1 362.9,380.4Z" fill="#e0f6fc"/>
<path d="M321.7,319.0 C321.7,319.9 321.3,321.1 320.7,321.7 C320.1,322.3 319.1,322.8 318.3,322.8 C317.5,322.8 316.5,322.3 315.9,321.7 C315.3,321.1 314.9,319.9 314.9,319.0 C314.9,318.1 315.3,316.9 315.9,316.3 C316.5,315.7 317.5,315.2 318.3,315.2 C319.1,315.2 320.1,315.7 320.7,316.3 C321.3,316.9 321.7,318.1 321.7,319.0Z" fill="#ff7c80"/>
<path d="M323.7,406.2 C324.5,405.4 325.9,405.2 328.0,404.8 C330.1,404.4 334.6,403.8 336.5,404.0 C338.4,404.2 339.5,405.5 339.5,406.2 C339.5,406.9 337.9,407.7 336.5,408.4 C335.1,409.1 332.7,409.8 330.8,410.5 C328.9,411.2 326.3,412.7 325.0,412.5 C323.7,412.3 323.4,410.6 323.2,409.5 C323.0,408.4 322.9,407.0 323.7,406.2Z" fill="#ff7c80"/>
<path d="M302.8,298.8 C302.9,299.5 302.9,300.4 302.8,300.9 C302.7,301.5 302.4,301.9 302.1,302.0 C301.8,302.0 301.4,301.7 301.1,301.2 C300.8,300.8 300.5,299.9 300.4,299.2 C300.3,298.5 300.3,297.6 300.4,297.1 C300.5,296.5 300.8,296.1 301.1,296.0 C301.4,296.0 301.8,296.3 302.1,296.8 C302.4,297.2 302.7,298.1 302.8,298.8Z" fill="#bd0003"/>
<path d="M298.2,314.0 C298.2,314.3 298.0,314.8 297.8,315.0 C297.6,315.2 297.1,315.4 296.8,315.4 C296.5,315.4 296.0,315.2 295.8,315.0 C295.6,314.8 295.4,314.3 295.4,314.0 C295.4,313.7 295.6,313.2 295.8,313.0 C296.0,312.8 296.5,312.6 296.8,312.6 C297.1,312.6 297.6,312.8 297.8,313.0 C298.0,313.2 298.2,313.7 298.2,314.0Z" fill="#bd0003"/>
<path d="M296.6,334.0 C296.6,334.2 296.5,334.5 296.3,334.7 C296.1,334.9 295.8,335.0 295.6,335.0 C295.4,335.0 295.1,334.9 294.9,334.7 C294.7,334.5 294.6,334.2 294.6,334.0 C294.6,333.8 294.7,333.5 294.9,333.3 C295.1,333.1 295.4,333.0 295.6,333.0 C295.8,333.0 296.1,333.1 296.3,333.3 C296.5,333.5 296.6,333.8 296.6,334.0Z" fill="#bd0003"/>
<path d="M297.0,340.0 C297.0,340.2 296.9,340.5 296.7,340.7 C296.5,340.9 296.2,341.0 296.0,341.0 C295.8,341.0 295.5,340.9 295.3,340.7 C295.1,340.5 295.0,340.2 295.0,340.0 C295.0,339.8 295.1,339.5 295.3,339.3 C295.5,339.1 295.8,339.0 296.0,339.0 C296.2,339.0 296.5,339.1 296.7,339.3 C296.9,339.5 297.0,339.8 297.0,340.0Z" fill="#bd0003"/>
<path d="M296.7,379.5 C297.9,379.5 300.7,381.4 301.5,383.0 C302.3,384.6 302.2,387.4 301.5,389.0 C300.8,390.6 298.4,392.5 297.0,392.5 C295.6,392.5 293.4,390.6 293.0,389.0 C292.6,387.4 293.7,384.6 294.3,383.0 C294.9,381.4 295.5,379.5 296.7,379.5Z" fill="#bd0003"/>
<path d="M271.2,397.0 C271.2,396.2 274.1,395.1 275.5,395.0 C276.9,394.9 278.9,395.6 279.7,396.3 C280.5,397.0 281.1,398.4 280.4,399.0 C279.7,399.6 277.0,400.1 275.5,399.8 C274.0,399.5 271.2,397.8 271.2,397.0Z" fill="#bd0003"/>
<path d="M299.6,399.2 C299.6,399.6 299.3,400.1 299.0,400.4 C298.6,400.7 297.9,400.9 297.4,400.9 C296.9,400.9 296.2,400.7 295.8,400.4 C295.5,400.1 295.2,399.6 295.2,399.2 C295.2,398.8 295.5,398.3 295.8,398.0 C296.2,397.7 296.9,397.5 297.4,397.5 C297.9,397.5 298.6,397.7 299.0,398.0 C299.3,398.3 299.6,398.8 299.6,399.2Z" fill="#ffffff"/>
<path d="M306.3,351.3 C306.3,351.5 306.1,351.8 305.9,352.0 C305.7,352.2 305.3,352.3 305.0,352.3 C304.7,352.3 304.3,352.2 304.1,352.0 C303.9,351.8 303.7,351.5 303.7,351.3 C303.7,351.1 303.9,350.8 304.1,350.6 C304.3,350.4 304.7,350.3 305.0,350.3 C305.3,350.3 305.7,350.4 305.9,350.6 C306.1,350.8 306.3,351.1 306.3,351.3Z" fill="#ff4046"/>
<path d="M339.5,394.9 C339.5,395.2 339.3,395.6 339.1,395.8 C338.9,396.0 338.5,396.2 338.2,396.2 C337.9,396.2 337.5,396.0 337.3,395.8 C337.1,395.6 336.9,395.2 336.9,394.9 C336.9,394.6 337.1,394.2 337.3,394.0 C337.5,393.8 337.9,393.6 338.2,393.6 C338.5,393.6 338.9,393.8 339.1,394.0 C339.3,394.2 339.5,394.6 339.5,394.9Z" fill="#bd0003"/>
<path d="M182.7,350.0 C183.1,348.9 183.6,347.7 186.5,347.5 C189.4,347.3 195.6,348.2 200.0,348.8 C204.4,349.4 209.2,351.3 212.8,351.3 C216.4,351.3 219.8,348.4 221.6,348.8 C223.3,349.2 223.7,351.9 223.3,353.8 C222.9,355.7 221.0,358.3 219.0,360.0 C217.0,361.7 213.2,362.1 211.5,363.8 C209.8,365.5 209.8,368.7 209.0,370.0 C208.2,371.3 207.3,372.0 206.5,371.4 C205.7,370.8 205.9,367.8 204.0,366.3 C202.1,364.8 197.9,363.9 195.2,362.6 C192.5,361.4 189.6,360.3 187.7,358.8 C185.8,357.3 184.8,355.3 184.0,353.8 C183.2,352.3 182.3,351.1 182.7,350.0Z" fill="#bd0003"/>
<path d="M244.0,332.5 C245.9,331.5 247.7,330.5 250.4,331.3 C253.1,332.1 257.5,335.7 260.4,337.5 C263.3,339.3 265.6,340.1 268.0,342.0 C270.4,343.9 273.4,346.9 275.0,349.0 C276.6,351.1 277.4,352.7 277.5,354.5 C277.6,356.3 277.2,358.2 275.4,360.0 C273.6,361.8 268.6,363.3 266.7,365.0 C264.8,366.7 264.2,368.1 264.0,370.0 C263.8,371.9 265.8,375.6 265.4,376.4 C265.0,377.2 262.9,375.8 261.7,375.0 C260.4,374.2 260.2,372.4 257.9,371.4 C255.6,370.4 251.2,369.9 247.9,368.8 C244.6,367.7 240.3,366.5 237.8,365.0 C235.3,363.5 233.6,362.2 232.8,360.0 C232.0,357.8 232.6,354.5 233.0,352.0 C233.4,349.5 234.3,347.4 235.3,345.0 C236.3,342.6 237.6,339.6 239.0,337.5 C240.4,335.4 242.1,333.5 244.0,332.5Z" fill="#ff4046"/>
<path d="M273.2,354.3 C273.2,355.0 272.8,355.9 272.3,356.4 C271.7,356.8 270.8,357.2 270.0,357.2 C269.2,357.2 268.3,356.8 267.7,356.4 C267.2,355.9 266.8,355.0 266.8,354.3 C266.8,353.6 267.2,352.7 267.7,352.2 C268.3,351.8 269.2,351.4 270.0,351.4 C270.8,351.4 271.7,351.8 272.3,352.2 C272.8,352.7 273.2,353.6 273.2,354.3Z" fill="#ff7c80"/>
<path d="M187.7,375.0 C188.5,374.2 189.4,373.5 191.5,373.9 C193.6,374.3 197.2,376.2 200.3,377.6 C203.4,379.1 207.5,381.8 210.3,382.6 C213.1,383.4 216.4,381.4 217.3,382.6 C218.2,383.8 217.0,387.9 215.8,390.0 C214.6,392.1 212.1,394.8 210.3,395.0 C208.6,395.2 207.6,392.4 205.3,391.4 C203.0,390.4 199.0,390.1 196.5,388.9 C194.0,387.6 191.9,385.6 190.2,383.9 C188.5,382.2 186.9,380.4 186.5,378.9 C186.1,377.4 186.9,375.8 187.7,375.0Z" fill="#ff4046"/>
<path d="M231.3,399.0 C231.3,400.4 230.5,402.2 229.5,403.2 C228.5,404.2 226.7,405.0 225.3,405.0 C223.9,405.0 222.1,404.2 221.1,403.2 C220.1,402.2 219.3,400.4 219.3,399.0 C219.3,397.6 220.1,395.8 221.1,394.8 C222.1,393.8 223.9,393.0 225.3,393.0 C226.7,393.0 228.5,393.8 229.5,394.8 C230.5,395.8 231.3,397.6 231.3,399.0Z" fill="#bd0003"/>
<path d="M157.6,401.4 C158.6,400.1 162.7,399.5 165.2,398.9 C167.7,398.3 170.8,398.9 172.7,397.7 C174.6,396.4 174.9,392.4 176.4,391.4 C177.9,390.3 179.2,390.3 181.5,391.4 C183.8,392.4 187.9,395.8 190.2,397.7 C192.5,399.6 193.5,400.6 195.2,402.7 C196.9,404.8 197.8,408.3 200.3,410.2 C202.8,412.1 207.0,412.8 210.3,414.0 C213.6,415.2 218.4,416.7 220.3,417.7 C222.2,418.7 220.3,420.8 222.0,420.0 C223.7,419.2 227.5,413.5 230.3,412.7 C233.1,411.9 236.7,414.0 239.0,415.2 C241.3,416.4 242.2,417.2 244.0,420.0 C245.8,422.8 250.7,427.8 250.0,432.0 C249.3,436.2 248.3,442.8 240.0,445.0 C231.7,447.2 212.9,446.7 200.0,445.0 C187.1,443.3 168.9,440.4 162.7,435.0 C156.5,429.6 163.3,417.5 162.7,412.7 C162.1,407.9 159.8,408.3 158.9,406.4 C158.1,404.5 156.6,402.6 157.6,401.4Z" fill="#ff4046"/>
<path d="M197.0,430.0 C196.0,426.9 197.2,428.8 199.0,426.5 C200.8,424.2 205.5,418.4 207.8,416.5 C210.1,414.6 210.7,414.6 212.8,415.2 C214.9,415.8 217.4,419.1 220.3,420.2 C223.2,421.2 227.0,420.9 230.3,421.5 C233.7,422.1 237.8,422.6 240.4,424.0 C243.0,425.4 245.1,427.0 246.0,430.0 C246.9,433.0 252.8,439.5 246.0,442.0 C239.2,444.5 213.2,447.0 205.0,445.0 C196.8,443.0 198.0,433.1 197.0,430.0Z" fill="#ff7c80"/>
<path d="M229.1,429.8 C229.4,430.8 228.9,432.4 228.1,433.4 C227.2,434.4 225.4,435.5 224.0,435.8 C222.5,436.2 220.4,436.2 219.2,435.8 C217.9,435.3 216.8,434.2 216.5,433.2 C216.2,432.2 216.7,430.6 217.5,429.6 C218.4,428.6 220.2,427.5 221.6,427.2 C223.1,426.8 225.2,426.8 226.4,427.2 C227.7,427.7 228.8,428.8 229.1,429.8Z" fill="#f8c8cc"/>
<path d="M233.5,431.5 C234.3,430.2 236.3,429.8 238.0,429.5 C239.7,429.2 242.3,428.2 243.5,429.5 C244.7,430.8 246.8,435.7 245.0,437.0 C243.2,438.3 234.9,438.4 233.0,437.5 C231.1,436.6 232.7,432.8 233.5,431.5Z" fill="#ff4046"/>
<path d="M226.9,429.6 C226.9,429.8 226.8,430.1 226.6,430.2 C226.5,430.4 226.2,430.5 226.0,430.5 C225.8,430.5 225.5,430.4 225.4,430.2 C225.2,430.1 225.1,429.8 225.1,429.6 C225.1,429.4 225.2,429.1 225.4,429.0 C225.5,428.8 225.8,428.7 226.0,428.7 C226.2,428.7 226.5,428.8 226.6,429.0 C226.8,429.1 226.9,429.4 226.9,429.6Z" fill="#200000"/>
<path d="M119.8,397.0 C123.1,396.6 122.8,400.1 124.0,401.7 C125.2,403.3 126.2,404.8 127.0,406.5 C127.8,408.2 128.4,410.2 128.7,412.0 C129.0,413.8 130.4,415.5 129.0,417.0 C127.5,418.5 124.2,423.2 120.0,421.0 C115.8,418.8 104.0,408.0 104.0,404.0 C104.0,400.0 116.5,397.4 119.8,397.0Z" fill="#bd0003"/>
<path d="M121.0,392.5 C121.2,391.8 125.2,389.9 127.5,389.0 C129.8,388.1 132.6,387.6 134.7,387.4 C136.8,387.2 138.9,387.5 140.0,388.0 C141.1,388.5 141.4,389.6 141.3,390.4 C141.2,391.2 140.8,392.3 139.5,392.8 C138.2,393.3 135.7,393.4 133.5,393.4 C131.3,393.4 128.4,393.1 126.3,393.0 C124.2,392.9 120.8,393.2 121.0,392.5Z" fill="#ff4046"/>
<path d="M196.5,336.3 C196.9,335.3 200.1,334.0 202.8,333.8 C205.5,333.6 209.7,334.4 212.8,335.0 C215.9,335.6 220.6,336.4 221.6,337.5 C222.6,338.6 220.9,340.5 219.0,341.3 C217.1,342.1 213.4,342.7 210.3,342.5 C207.2,342.3 202.6,341.0 200.3,340.0 C198.0,339.0 196.1,337.3 196.5,336.3Z" fill="#ff4046"/>
<path d="M176.9,348.8 C176.9,349.6 176.5,350.6 175.9,351.1 C175.3,351.7 174.2,352.1 173.4,352.1 C172.6,352.1 171.5,351.7 170.9,351.1 C170.3,350.6 169.9,349.6 169.9,348.8 C169.9,348.0 170.3,347.0 170.9,346.5 C171.5,345.9 172.6,345.5 173.4,345.5 C174.2,345.5 175.3,345.9 175.9,346.5 C176.5,347.0 176.9,348.0 176.9,348.8Z" fill="#ff4046"/>
<path d="M169.0,391.4 C169.0,392.2 168.7,393.3 168.2,393.9 C167.8,394.5 167.0,395.0 166.4,395.0 C165.8,395.0 165.0,394.5 164.6,393.9 C164.1,393.3 163.8,392.2 163.8,391.4 C163.8,390.6 164.1,389.5 164.6,388.9 C165.0,388.3 165.8,387.8 166.4,387.8 C167.0,387.8 167.8,388.3 168.2,388.9 C168.7,389.5 169.0,390.6 169.0,391.4Z" fill="#bd0003"/>
<path d="M175.7,382.6 C175.7,383.0 175.3,383.6 174.8,383.9 C174.3,384.2 173.4,384.4 172.7,384.4 C172.0,384.4 171.1,384.2 170.6,383.9 C170.1,383.6 169.7,383.0 169.7,382.6 C169.7,382.2 170.1,381.6 170.6,381.3 C171.1,381.0 172.0,380.8 172.7,380.8 C173.4,380.8 174.3,381.0 174.8,381.3 C175.3,381.6 175.7,382.2 175.7,382.6Z" fill="#bd0003"/>
<path d="M183.0,382.6 C183.0,383.0 182.6,383.6 182.1,383.9 C181.6,384.2 180.7,384.4 180.0,384.4 C179.3,384.4 178.4,384.2 177.9,383.9 C177.4,383.6 177.0,383.0 177.0,382.6 C177.0,382.2 177.4,381.6 177.9,381.3 C178.4,381.0 179.3,380.8 180.0,380.8 C180.7,380.8 181.6,381.0 182.1,381.3 C182.6,381.6 183.0,382.2 183.0,382.6Z" fill="#bd0003"/>
<path d="M190.2,409.0 C190.2,409.5 189.9,410.1 189.6,410.4 C189.3,410.7 188.7,411.0 188.2,411.0 C187.7,411.0 187.1,410.7 186.8,410.4 C186.5,410.1 186.2,409.5 186.2,409.0 C186.2,408.5 186.5,407.9 186.8,407.6 C187.1,407.3 187.7,407.0 188.2,407.0 C188.7,407.0 189.3,407.3 189.6,407.6 C189.9,407.9 190.2,408.5 190.2,409.0Z" fill="#ff7c80"/>
<path d="M156.9,362.6 C156.9,362.9 156.7,363.3 156.5,363.5 C156.3,363.7 155.9,363.9 155.6,363.9 C155.3,363.9 154.9,363.7 154.7,363.5 C154.5,363.3 154.3,362.9 154.3,362.6 C154.3,362.3 154.5,361.9 154.7,361.7 C154.9,361.5 155.3,361.3 155.6,361.3 C155.9,361.3 156.3,361.5 156.5,361.7 C156.7,361.9 156.9,362.3 156.9,362.6Z" fill="#ec1017"/>
<path d="M178.3,373.0 C178.3,373.3 178.1,373.7 177.9,373.9 C177.7,374.1 177.3,374.3 177.0,374.3 C176.7,374.3 176.3,374.1 176.1,373.9 C175.9,373.7 175.7,373.3 175.7,373.0 C175.7,372.7 175.9,372.3 176.1,372.1 C176.3,371.9 176.7,371.7 177.0,371.7 C177.3,371.7 177.7,371.9 177.9,372.1 C178.1,372.3 178.3,372.7 178.3,373.0Z" fill="#ec1017"/>
<path d="M48.0,210.4 C48.5,209.0 50.7,207.8 52.5,207.0 C54.3,206.2 56.8,206.1 59.0,205.8 C61.2,205.5 63.7,205.6 65.5,205.2 C67.3,204.8 68.9,203.3 70.0,203.2 C71.1,203.1 71.9,203.3 72.0,204.5 C72.1,205.7 71.4,208.5 70.7,210.4 C70.0,212.3 69.2,214.3 68.1,216.2 C67.0,218.1 65.4,220.7 64.2,222.0 C63.0,223.3 62.2,223.9 61.0,224.0 C59.8,224.1 58.4,223.4 57.0,222.7 C55.6,221.9 53.8,220.7 52.5,219.5 C51.2,218.3 50.0,217.1 49.3,215.6 C48.5,214.1 47.5,211.8 48.0,210.4Z" fill="#890004"/>
<path d="M150.6,231.5 C150.6,232.4 150.1,233.7 149.4,234.3 C148.8,235.0 147.5,235.5 146.6,235.5 C145.7,235.5 144.4,235.0 143.8,234.3 C143.1,233.7 142.6,232.4 142.6,231.5 C142.6,230.6 143.1,229.3 143.8,228.7 C144.4,228.0 145.7,227.5 146.6,227.5 C147.5,227.5 148.8,228.0 149.4,228.7 C150.1,229.3 150.6,230.6 150.6,231.5Z" fill="#ec1017"/>
<path d="M179.7,249.7 C179.7,250.6 179.2,251.7 178.6,252.3 C178.0,252.9 176.9,253.4 176.0,253.4 C175.1,253.4 174.0,252.9 173.4,252.3 C172.8,251.7 172.3,250.6 172.3,249.7 C172.3,248.8 172.8,247.7 173.4,247.1 C174.0,246.5 175.1,246.0 176.0,246.0 C176.9,246.0 178.0,246.5 178.6,247.1 C179.2,247.7 179.7,248.8 179.7,249.7Z" fill="#ec1017"/>
<path d="M128.0,259.8 C128.0,261.0 127.2,262.7 126.1,263.5 C125.0,264.4 123.0,265.1 121.5,265.1 C120.0,265.1 118.0,264.4 116.9,263.5 C115.8,262.7 115.0,261.0 115.0,259.8 C115.0,258.6 115.8,256.9 116.9,256.1 C118.0,255.2 120.0,254.5 121.5,254.5 C123.0,254.5 125.0,255.2 126.1,256.1 C127.2,256.9 128.0,258.6 128.0,259.8Z" fill="#ec1017"/>
<path d="M127.9,184.3 C127.9,184.6 127.7,185.1 127.5,185.3 C127.3,185.5 126.8,185.7 126.5,185.7 C126.2,185.7 125.7,185.5 125.5,185.3 C125.3,185.1 125.1,184.6 125.1,184.3 C125.1,184.0 125.3,183.5 125.5,183.3 C125.7,183.1 126.2,182.9 126.5,182.9 C126.8,182.9 127.3,183.1 127.5,183.3 C127.7,183.5 127.9,184.0 127.9,184.3Z" fill="#bd0003"/>
<path d="M282.2,211.5 C282.7,212.4 282.9,213.9 282.6,215.0 C282.4,216.0 281.4,217.2 280.5,217.8 C279.6,218.3 278.1,218.5 277.0,218.2 C276.0,218.0 274.8,217.0 274.2,216.1 C273.7,215.2 273.5,213.7 273.8,212.6 C274.0,211.6 275.0,210.4 275.9,209.8 C276.8,209.3 278.3,209.1 279.4,209.4 C280.4,209.6 281.6,210.6 282.2,211.5Z" fill="#890004"/>
<path d="M268.3,231.2 C267.8,232.6 266.6,234.3 265.5,235.1 C264.4,235.9 262.8,236.2 261.7,235.8 C260.7,235.4 259.7,234.2 259.3,232.9 C259.0,231.6 259.1,229.5 259.7,228.0 C260.2,226.6 261.4,224.9 262.5,224.1 C263.6,223.3 265.2,223.0 266.3,223.4 C267.3,223.8 268.3,225.0 268.7,226.3 C269.0,227.6 268.9,229.7 268.3,231.2Z" fill="#ec1017"/>
<path d="M286.6,224.3 C286.6,224.6 286.4,225.0 286.2,225.2 C286.0,225.4 285.6,225.6 285.3,225.6 C285.0,225.6 284.6,225.4 284.4,225.2 C284.2,225.0 284.0,224.6 284.0,224.3 C284.0,224.0 284.2,223.6 284.4,223.4 C284.6,223.2 285.0,223.0 285.3,223.0 C285.6,223.0 286.0,223.2 286.2,223.4 C286.4,223.6 286.6,224.0 286.6,224.3Z" fill="#bd0003"/>
<path d="M299.1,222.0 C299.1,222.2 299.0,222.4 298.9,222.6 C298.7,222.7 298.5,222.8 298.3,222.8 C298.1,222.8 297.9,222.7 297.7,222.6 C297.6,222.4 297.5,222.2 297.5,222.0 C297.5,221.8 297.6,221.6 297.7,221.4 C297.9,221.3 298.1,221.2 298.3,221.2 C298.5,221.2 298.7,221.3 298.9,221.4 C299.0,221.6 299.1,221.8 299.1,222.0Z" fill="#bd0003"/>
<path d="M266.8,254.6 C266.8,255.3 266.4,256.1 266.0,256.6 C265.5,257.0 264.7,257.4 264.0,257.4 C263.3,257.4 262.5,257.0 262.0,256.6 C261.6,256.1 261.2,255.3 261.2,254.6 C261.2,253.9 261.6,253.1 262.0,252.6 C262.5,252.2 263.3,251.8 264.0,251.8 C264.7,251.8 265.5,252.2 266.0,252.6 C266.4,253.1 266.8,253.9 266.8,254.6Z" fill="#890004"/>
<path d="M280.0,269.9 C280.3,271.4 280.1,273.3 279.5,274.5 C279.0,275.6 277.8,276.6 276.8,276.8 C275.8,277.0 274.3,276.4 273.4,275.6 C272.5,274.7 271.6,272.9 271.4,271.5 C271.1,270.0 271.3,268.1 271.9,266.9 C272.4,265.8 273.6,264.8 274.6,264.6 C275.6,264.4 277.1,265.0 278.0,265.8 C278.9,266.7 279.8,268.5 280.0,269.9Z" fill="#ff4046"/>
<path d="M293.1,269.4 C293.7,270.3 293.8,271.9 293.4,273.0 C292.9,274.2 291.7,275.5 290.6,276.2 C289.5,276.8 287.7,277.2 286.5,277.0 C285.3,276.8 284.0,275.9 283.5,275.0 C282.9,274.1 282.8,272.5 283.2,271.4 C283.7,270.2 284.9,268.9 286.0,268.2 C287.1,267.6 288.9,267.2 290.1,267.4 C291.3,267.6 292.6,268.5 293.1,269.4Z" fill="#ff4046"/>
<path d="M272.8,285.3 C273.2,286.3 273.1,287.8 272.6,288.8 C272.1,289.9 270.8,291.1 269.6,291.7 C268.4,292.2 266.6,292.5 265.4,292.2 C264.3,291.9 263.1,291.0 262.6,290.1 C262.2,289.1 262.3,287.6 262.8,286.6 C263.3,285.5 264.6,284.3 265.8,283.7 C267.0,283.2 268.8,282.9 270.0,283.2 C271.1,283.5 272.3,284.4 272.8,285.3Z" fill="#ff4046"/>
<path d="M237.3,268.5 C237.3,269.2 237.0,270.1 236.6,270.6 C236.2,271.1 235.4,271.5 234.8,271.5 C234.2,271.5 233.4,271.1 233.0,270.6 C232.6,270.1 232.3,269.2 232.3,268.5 C232.3,267.8 232.6,266.9 233.0,266.4 C233.4,265.9 234.2,265.5 234.8,265.5 C235.4,265.5 236.2,265.9 236.6,266.4 C237.0,266.9 237.3,267.8 237.3,268.5Z" fill="#bd0003"/>
<path d="M224.8,263.0 C224.8,263.2 224.7,263.5 224.5,263.6 C224.4,263.8 224.1,263.9 223.9,263.9 C223.7,263.9 223.4,263.8 223.3,263.6 C223.1,263.5 223.0,263.2 223.0,263.0 C223.0,262.8 223.1,262.5 223.3,262.4 C223.4,262.2 223.7,262.1 223.9,262.1 C224.1,262.1 224.4,262.2 224.5,262.4 C224.7,262.5 224.8,262.8 224.8,263.0Z" fill="#bd0003"/>
<path d="M221.8,287.0 C221.8,287.4 221.6,288.0 221.3,288.3 C221.0,288.6 220.4,288.8 220.0,288.8 C219.6,288.8 219.0,288.6 218.7,288.3 C218.4,288.0 218.2,287.4 218.2,287.0 C218.2,286.6 218.4,286.0 218.7,285.7 C219.0,285.4 219.6,285.2 220.0,285.2 C220.4,285.2 221.0,285.4 221.3,285.7 C221.6,286.0 221.8,286.6 221.8,287.0Z" fill="#ec1017"/>
<path d="M225.7,295.8 C225.7,296.1 225.5,296.6 225.3,296.8 C225.1,297.0 224.6,297.2 224.3,297.2 C224.0,297.2 223.5,297.0 223.3,296.8 C223.1,296.6 222.9,296.1 222.9,295.8 C222.9,295.5 223.1,295.0 223.3,294.8 C223.5,294.6 224.0,294.4 224.3,294.4 C224.6,294.4 225.1,294.6 225.3,294.8 C225.5,295.0 225.7,295.5 225.7,295.8Z" fill="#890004"/>
<path d="M216.6,300.2 C216.6,300.6 216.4,301.2 216.1,301.5 C215.8,301.8 215.2,302.0 214.8,302.0 C214.4,302.0 213.8,301.8 213.5,301.5 C213.2,301.2 213.0,300.6 213.0,300.2 C213.0,299.8 213.2,299.2 213.5,298.9 C213.8,298.6 214.4,298.4 214.8,298.4 C215.2,298.4 215.8,298.6 216.1,298.9 C216.4,299.2 216.6,299.8 216.6,300.2Z" fill="#ec1017"/>
<path d="M192.5,302.0 C192.5,300.2 194.5,296.2 196.2,293.6 C197.9,291.0 200.7,288.0 202.6,286.5 C204.5,285.0 206.4,284.2 207.6,284.8 C208.8,285.4 209.8,287.9 210.0,290.0 C210.2,292.1 209.8,295.7 208.8,297.7 C207.8,299.7 206.1,300.9 204.0,302.0 C201.9,303.1 197.9,304.5 196.0,304.5 C194.1,304.5 192.5,303.8 192.5,302.0Z" fill="#890004"/>
<path d="M249.1,310.5 C249.1,311.5 248.6,312.8 247.8,313.5 C247.1,314.3 245.8,314.8 244.8,314.8 C243.8,314.8 242.5,314.3 241.8,313.5 C241.0,312.8 240.5,311.5 240.5,310.5 C240.5,309.5 241.0,308.2 241.8,307.5 C242.5,306.7 243.8,306.2 244.8,306.2 C245.8,306.2 247.1,306.7 247.8,307.5 C248.6,308.2 249.1,309.5 249.1,310.5Z" fill="#bd0003"/>
<path d="M319.5,270.7 C319.5,271.8 319.0,273.3 318.3,274.1 C317.6,274.9 316.3,275.5 315.3,275.5 C314.3,275.5 313.0,274.9 312.3,274.1 C311.6,273.3 311.1,271.8 311.1,270.7 C311.1,269.6 311.6,268.1 312.3,267.3 C313.0,266.5 314.3,265.9 315.3,265.9 C316.3,265.9 317.6,266.5 318.3,267.3 C319.0,268.1 319.5,269.6 319.5,270.7Z" fill="#890004"/>
<path d="M328.6,237.6 C328.9,238.5 328.9,239.9 328.6,240.7 C328.3,241.5 327.6,242.2 327.0,242.4 C326.3,242.5 325.4,242.2 324.8,241.7 C324.1,241.1 323.5,240.0 323.2,239.0 C322.9,238.1 322.9,236.7 323.2,235.9 C323.5,235.1 324.2,234.4 324.8,234.2 C325.5,234.1 326.4,234.4 327.0,234.9 C327.7,235.5 328.3,236.6 328.6,237.6Z" fill="#890004"/>
<path d="M352.8,229.6 C352.8,230.3 352.4,231.1 352.0,231.6 C351.5,232.0 350.7,232.4 350.0,232.4 C349.3,232.4 348.5,232.0 348.0,231.6 C347.6,231.1 347.2,230.3 347.2,229.6 C347.2,228.9 347.6,228.1 348.0,227.6 C348.5,227.2 349.3,226.8 350.0,226.8 C350.7,226.8 351.5,227.2 352.0,227.6 C352.4,228.1 352.8,228.9 352.8,229.6Z" fill="#ec1017"/>
<path d="M358.5,226.8 C358.5,227.2 358.3,227.8 358.0,228.1 C357.7,228.4 357.1,228.6 356.7,228.6 C356.3,228.6 355.7,228.4 355.4,228.1 C355.1,227.8 354.9,227.2 354.9,226.8 C354.9,226.4 355.1,225.8 355.4,225.5 C355.7,225.2 356.3,225.0 356.7,225.0 C357.1,225.0 357.7,225.2 358.0,225.5 C358.3,225.8 358.5,226.4 358.5,226.8Z" fill="#ec1017"/>
<path d="M361.8,215.5 C361.8,215.7 361.7,215.9 361.6,216.1 C361.4,216.2 361.2,216.3 361.0,216.3 C360.8,216.3 360.6,216.2 360.4,216.1 C360.3,215.9 360.2,215.7 360.2,215.5 C360.2,215.3 360.3,215.1 360.4,214.9 C360.6,214.8 360.8,214.7 361.0,214.7 C361.2,214.7 361.4,214.8 361.6,214.9 C361.7,215.1 361.8,215.3 361.8,215.5Z" fill="#bd0003"/>
<path d="M352.0,247.0 C352.0,245.8 354.3,244.3 356.0,243.0 C357.7,241.7 360.3,239.5 362.0,239.0 C363.7,238.5 365.7,238.8 366.0,240.0 C366.3,241.2 365.7,244.3 364.0,246.0 C362.3,247.7 358.0,249.8 356.0,250.0 C354.0,250.2 352.0,248.2 352.0,247.0Z" fill="#ec1017"/>
<path d="M300.6,244.6 C300.6,244.8 300.5,245.0 300.4,245.2 C300.2,245.3 300.0,245.4 299.8,245.4 C299.6,245.4 299.4,245.3 299.2,245.2 C299.1,245.0 299.0,244.8 299.0,244.6 C299.0,244.4 299.1,244.2 299.2,244.0 C299.4,243.9 299.6,243.8 299.8,243.8 C300.0,243.8 300.2,243.9 300.4,244.0 C300.5,244.2 300.6,244.4 300.6,244.6Z" fill="#bd0003"/>
<path d="M300.5,174.7 C300.5,175.1 300.3,175.5 300.1,175.8 C299.8,176.0 299.4,176.2 299.0,176.2 C298.6,176.2 298.2,176.0 297.9,175.8 C297.7,175.5 297.5,175.1 297.5,174.7 C297.5,174.3 297.7,173.9 297.9,173.6 C298.2,173.4 298.6,173.2 299.0,173.2 C299.4,173.2 299.8,173.4 300.1,173.6 C300.3,173.9 300.5,174.3 300.5,174.7Z" fill="#bd0003"/>
<path d="M159.9,294.5 C159.9,295.0 159.6,295.7 159.1,296.1 C158.7,296.4 157.9,296.7 157.3,296.7 C156.7,296.7 155.9,296.4 155.5,296.1 C155.0,295.7 154.7,295.0 154.7,294.5 C154.7,294.0 155.0,293.3 155.5,292.9 C155.9,292.6 156.7,292.3 157.3,292.3 C157.9,292.3 158.7,292.6 159.1,292.9 C159.6,293.3 159.9,294.0 159.9,294.5Z" fill="#bd0003"/>
<path d="M169.6,297.4 C169.6,297.7 169.4,298.1 169.2,298.3 C169.0,298.5 168.6,298.7 168.3,298.7 C168.0,298.7 167.6,298.5 167.4,298.3 C167.2,298.1 167.0,297.7 167.0,297.4 C167.0,297.1 167.2,296.7 167.4,296.5 C167.6,296.3 168.0,296.1 168.3,296.1 C168.6,296.1 169.0,296.3 169.2,296.5 C169.4,296.7 169.6,297.1 169.6,297.4Z" fill="#890004"/>
<path d="M176.7,312.2 C176.7,312.4 176.6,312.7 176.4,312.9 C176.2,313.1 175.9,313.2 175.7,313.2 C175.5,313.2 175.2,313.1 175.0,312.9 C174.8,312.7 174.7,312.4 174.7,312.2 C174.7,312.0 174.8,311.7 175.0,311.5 C175.2,311.3 175.5,311.2 175.7,311.2 C175.9,311.2 176.2,311.3 176.4,311.5 C176.6,311.7 176.7,312.0 176.7,312.2Z" fill="#890004"/>
<path d="M181.0,313.0 C181.0,313.2 180.9,313.5 180.7,313.7 C180.5,313.9 180.2,314.0 180.0,314.0 C179.8,314.0 179.5,313.9 179.3,313.7 C179.1,313.5 179.0,313.2 179.0,313.0 C179.0,312.8 179.1,312.5 179.3,312.3 C179.5,312.1 179.8,312.0 180.0,312.0 C180.2,312.0 180.5,312.1 180.7,312.3 C180.9,312.5 181.0,312.8 181.0,313.0Z" fill="#890004"/>
<path d="M155.7,323.5 C155.1,324.5 154.0,325.6 153.0,326.0 C152.1,326.5 150.8,326.5 150.1,326.0 C149.4,325.6 148.7,324.5 148.6,323.5 C148.5,322.5 148.9,320.9 149.5,319.9 C150.1,318.9 151.2,317.8 152.2,317.4 C153.1,316.9 154.4,316.9 155.1,317.4 C155.8,317.8 156.5,318.9 156.6,319.9 C156.7,320.9 156.3,322.5 155.7,323.5Z" fill="#bd0003"/>
<path d="M137.9,317.3 C137.9,317.9 137.6,318.6 137.2,319.0 C136.8,319.4 136.1,319.7 135.5,319.7 C134.9,319.7 134.2,319.4 133.8,319.0 C133.4,318.6 133.1,317.9 133.1,317.3 C133.1,316.7 133.4,316.0 133.8,315.6 C134.2,315.2 134.9,314.9 135.5,314.9 C136.1,314.9 136.8,315.2 137.2,315.6 C137.6,316.0 137.9,316.7 137.9,317.3Z" fill="#bd0003"/>
<path d="M170.7,323.6 C170.7,324.3 170.3,325.2 169.8,325.7 C169.3,326.2 168.4,326.6 167.7,326.6 C167.0,326.6 166.1,326.2 165.6,325.7 C165.1,325.2 164.7,324.3 164.7,323.6 C164.7,322.9 165.1,322.0 165.6,321.5 C166.1,321.0 167.0,320.6 167.7,320.6 C168.4,320.6 169.3,321.0 169.8,321.5 C170.3,322.0 170.7,322.9 170.7,323.6Z" fill="#ff4046"/>
<path d="M171.2,330.0 C171.2,330.5 170.9,331.1 170.6,331.4 C170.3,331.7 169.7,332.0 169.2,332.0 C168.7,332.0 168.1,331.7 167.8,331.4 C167.5,331.1 167.2,330.5 167.2,330.0 C167.2,329.5 167.5,328.9 167.8,328.6 C168.1,328.3 168.7,328.0 169.2,328.0 C169.7,328.0 170.3,328.3 170.6,328.6 C170.9,328.9 171.2,329.5 171.2,330.0Z" fill="#ff4046"/>
<path d="M196.2,323.4 C196.2,324.1 195.9,325.0 195.5,325.5 C195.1,326.0 194.3,326.4 193.7,326.4 C193.1,326.4 192.3,326.0 191.9,325.5 C191.5,325.0 191.2,324.1 191.2,323.4 C191.2,322.7 191.5,321.8 191.9,321.3 C192.3,320.8 193.1,320.4 193.7,320.4 C194.3,320.4 195.1,320.8 195.5,321.3 C195.9,321.8 196.2,322.7 196.2,323.4Z" fill="#ff4046"/>
<path d="M213.6,326.8 C213.6,327.9 212.7,329.3 211.5,330.1 C210.4,330.8 208.2,331.4 206.6,331.4 C205.0,331.4 202.8,330.8 201.7,330.1 C200.5,329.3 199.6,327.9 199.6,326.8 C199.6,325.7 200.5,324.3 201.7,323.5 C202.8,322.8 205.0,322.2 206.6,322.2 C208.2,322.2 210.4,322.8 211.5,323.5 C212.7,324.3 213.6,325.7 213.6,326.8Z" fill="#bd0003"/>
<path d="M134.5,329.6 C134.5,330.9 134.1,332.6 133.6,333.5 C133.1,334.4 132.2,335.1 131.5,335.1 C130.8,335.1 129.9,334.4 129.4,333.5 C128.9,332.6 128.5,330.9 128.5,329.6 C128.5,328.3 128.9,326.6 129.4,325.7 C129.9,324.8 130.8,324.1 131.5,324.1 C132.2,324.1 133.1,324.8 133.6,325.7 C134.1,326.6 134.5,328.3 134.5,329.6Z" fill="#ff4046"/>
<path d="M126.5,306.0 C126.5,306.7 126.3,307.6 126.1,308.1 C125.8,308.6 125.4,309.0 125.0,309.0 C124.6,309.0 124.2,308.6 123.9,308.1 C123.7,307.6 123.5,306.7 123.5,306.0 C123.5,305.3 123.7,304.4 123.9,303.9 C124.2,303.4 124.6,303.0 125.0,303.0 C125.4,303.0 125.8,303.4 126.1,303.9 C126.3,304.4 126.5,305.3 126.5,306.0Z" fill="#bd0003"/>
<path d="M385.0,410.0 L425.0,410.0 L425.0,480.0 L385.0,480.0Z" fill="#ff4046"/>
<path d="M385.0,430.0 C386.4,424.9 391.4,431.8 393.4,432.5 C395.4,433.2 396.0,433.1 396.9,434.5 C397.8,435.9 398.6,438.4 399.0,440.8 C399.4,443.2 399.4,446.6 399.0,449.2 C398.6,451.8 397.7,454.2 396.9,456.2 C396.1,458.2 396.0,459.9 394.0,461.0 C392.0,462.1 386.5,468.2 385.0,463.0 C383.5,457.8 383.6,435.1 385.0,430.0Z" fill="#ff7c80"/>
<path d="M388.0,462.0 C389.0,458.9 391.9,461.6 394.0,461.7 C396.1,461.8 398.2,462.8 400.4,462.4 C402.6,461.9 405.3,460.3 407.4,459.0 C409.5,457.7 410.9,456.0 413.0,454.8 C415.1,453.6 418.8,447.8 420.0,452.0 C421.2,456.2 425.3,475.3 420.0,480.0 C414.7,484.7 393.3,483.0 388.0,480.0 C382.7,477.0 387.0,465.1 388.0,462.0Z" fill="#ff7c80"/>
<path d="M397.0,467.5 C397.0,466.0 398.8,465.4 400.0,464.8 C401.2,464.2 403.1,463.8 404.5,463.8 C405.9,463.8 407.4,464.2 408.5,465.0 C409.6,465.8 410.9,467.0 411.0,468.5 C411.1,470.0 410.8,473.1 409.0,474.0 C407.2,474.9 402.0,475.1 400.0,474.0 C398.0,472.9 397.0,469.0 397.0,467.5Z" fill="#ff7c80"/>
<path d="M405.4,470.6 C405.3,471.0 404.7,471.6 404.1,471.7 C403.6,471.9 402.7,471.9 402.0,471.7 C401.4,471.4 400.7,470.9 400.4,470.4 C400.1,469.9 400.0,469.1 400.2,468.6 C400.3,468.2 400.9,467.6 401.5,467.5 C402.0,467.3 402.9,467.3 403.6,467.5 C404.2,467.8 404.9,468.3 405.2,468.8 C405.5,469.3 405.6,470.1 405.4,470.6Z" fill="#f8c8cc"/>
<path d="M415.7,432.4 C415.7,432.9 415.5,433.5 415.3,433.8 C415.1,434.1 414.6,434.4 414.3,434.4 C414.0,434.4 413.5,434.1 413.3,433.8 C413.1,433.5 412.9,432.9 412.9,432.4 C412.9,431.9 413.1,431.3 413.3,431.0 C413.5,430.7 414.0,430.4 414.3,430.4 C414.6,430.4 415.1,430.7 415.3,431.0 C415.5,431.3 415.7,431.9 415.7,432.4Z" fill="#ff7c80"/>
</g>
<use href="#ol" fill="none" stroke="#000" stroke-width="1.7" stroke-linejoin="round"/>
<g stroke="#000" stroke-width="1.1"><ellipse cx="25.0" cy="207.6" rx="1.1" ry="1.0" fill="#bd0003"/><ellipse cx="27.5" cy="209.5" rx="0.7" ry="0.7" fill="#bd0003"/><ellipse cx="31.0" cy="224.7" rx="1.3" ry="0.9" fill="#bd0003"/><ellipse cx="75.0" cy="252.0" rx="2.0" ry="1.1" fill="#bd0003"/><ellipse cx="81.5" cy="250.5" rx="0.8" ry="0.8" fill="#bd0003"/><ellipse cx="83.5" cy="253.0" rx="0.7" ry="0.7" fill="#bd0003"/><ellipse cx="99.8" cy="265.5" rx="1.3" ry="2.3" fill="#bd0003"/><ellipse cx="97.6" cy="276.5" rx="1.5" ry="0.9" fill="#bd0003"/><ellipse cx="101.5" cy="279.5" rx="0.8" ry="0.8" fill="#bd0003"/><ellipse cx="69.0" cy="242.0" rx="0.9" ry="0.7" fill="#bd0003"/><ellipse cx="88.0" cy="249.5" rx="0.9" ry="0.7" fill="#bd0003"/><ellipse cx="327.0" cy="416.5" rx="1.0" ry="0.6" fill="#bd0003"/><ellipse cx="331.5" cy="415.8" rx="1.2" ry="0.6" fill="#bd0003"/><path d="M119.8,294.8 L127.3,297.5" stroke-width="1.8" fill="none"/></g>
</g>
<g>
<g clip-path="url(#fr2)" stroke="#000" stroke-width="1.35" stroke-linejoin="round">
<rect x="420" y="50" width="426" height="440" fill="#800000" stroke="none"/>
<path d="M520.0,290.0 C522.7,289.2 531.8,286.6 536.4,285.2 C541.0,283.8 543.7,282.4 547.7,281.5 C551.7,280.6 558.5,281.2 560.2,279.7 C561.9,278.2 558.7,275.1 557.7,272.7 C556.7,270.3 554.4,267.7 554.0,265.2 C553.6,262.7 554.0,259.7 555.2,257.6 C556.5,255.5 559.0,253.6 561.5,252.6 C564.0,251.6 567.3,251.4 570.2,251.4 C573.1,251.4 576.1,253.0 579.0,252.6 C581.9,252.2 584.9,250.6 587.8,248.9 C590.7,247.2 594.6,245.3 596.5,242.6 C598.4,239.9 597.5,235.2 599.0,232.6 C600.5,230.0 602.2,227.8 605.3,227.0 C608.4,226.2 614.4,228.3 617.8,228.0 C621.1,227.7 623.3,226.9 625.4,225.0 C627.5,223.1 628.5,218.6 630.4,216.3 C632.3,214.0 634.3,212.1 636.6,211.3 C638.9,210.5 642.6,212.7 644.2,211.6 C645.8,210.5 644.3,207.1 646.0,205.0 C647.7,202.9 651.6,201.1 654.6,199.3 C657.6,197.6 661.5,196.4 664.0,194.5 C666.5,192.6 668.3,190.7 669.8,188.0 C671.2,185.3 671.8,179.8 672.7,178.4 C673.7,177.0 674.4,179.6 675.5,179.4 C676.6,179.2 678.3,178.9 679.3,177.5 C680.2,176.1 680.2,172.1 681.2,170.9 C682.2,169.7 683.4,169.6 685.0,170.5 C686.6,171.4 688.7,174.1 690.7,176.5 C692.8,178.9 695.4,182.5 697.3,185.0 C699.2,187.5 701.0,189.3 702.0,191.7 C703.0,194.1 702.0,196.8 703.0,199.3 C704.0,201.8 706.4,204.9 707.7,206.9 C709.0,208.9 709.7,211.4 710.6,211.6 C711.5,211.8 712.9,209.1 713.0,207.8 C713.1,206.5 712.5,205.1 711.5,204.0 C710.5,202.9 707.6,202.6 706.8,201.2 C706.0,199.8 705.7,197.7 706.8,195.5 C707.9,193.3 711.8,190.8 713.4,188.0 C715.0,185.2 715.5,181.6 716.3,178.4 C717.1,175.2 716.2,170.7 718.2,169.0 C720.2,167.3 725.3,168.3 728.6,168.0 C731.9,167.7 735.3,167.5 738.0,167.0 C740.7,166.5 741.0,166.4 744.7,165.2 C748.4,164.0 757.5,160.9 760.0,160.0 L800,60 L420,60 L420,290 Z" fill="#c41c00"/>
<path d="M582.9,186.4 C583.7,184.7 587.5,182.5 590.4,181.4 C593.3,180.3 597.0,180.4 600.4,180.0 C603.8,179.6 607.6,179.8 610.5,178.8 C613.4,177.8 615.5,174.6 618.0,173.8 C620.5,173.0 623.4,172.8 625.5,173.8 C627.6,174.8 629.7,177.7 630.5,180.0 C631.3,182.3 631.8,185.9 630.5,187.6 C629.2,189.3 625.5,189.2 623.0,190.0 C620.5,190.8 617.2,191.1 615.5,192.6 C613.8,194.1 612.8,196.8 613.0,198.9 C613.2,201.0 616.9,203.9 616.7,205.2 C616.5,206.4 613.6,205.6 611.7,206.4 C609.8,207.2 607.4,210.2 605.5,210.2 C603.6,210.2 601.7,208.3 600.4,206.4 C599.1,204.5 599.6,201.0 597.9,198.9 C596.2,196.8 592.5,195.2 590.4,193.9 C588.3,192.7 586.6,192.7 585.4,191.4 C584.1,190.2 582.1,188.1 582.9,186.4Z" fill="#800000"/>
<path d="M568.6,179.1 C568.2,179.9 567.1,180.7 566.0,180.9 C564.9,181.1 563.2,180.8 562.0,180.2 C560.8,179.7 559.5,178.6 558.9,177.6 C558.4,176.6 558.2,175.3 558.6,174.5 C559.0,173.7 560.1,172.9 561.2,172.7 C562.3,172.5 564.0,172.8 565.2,173.4 C566.4,173.9 567.7,175.0 568.3,176.0 C568.8,177.0 569.0,178.3 568.6,179.1Z" fill="#800000"/>
<path d="M633.9,142.7 C634.9,140.6 639.5,141.4 641.4,142.7 C643.3,143.9 644.5,147.3 645.2,150.2 C645.9,153.1 646.5,157.7 645.7,160.2 C644.9,162.7 642.1,164.0 640.2,165.2 C638.4,166.4 635.4,168.9 634.6,167.2 C633.8,165.5 635.7,159.3 635.6,155.2 C635.5,151.1 632.9,144.8 633.9,142.7Z" fill="#800000"/>
<path d="M760.8,178.0 C762.5,177.7 764.5,178.4 765.5,179.4 C766.5,180.4 766.8,182.3 766.5,184.0 C766.2,185.7 763.9,187.9 763.6,189.8 C763.3,191.7 765.1,193.6 764.6,195.5 C764.1,197.4 762.4,199.3 760.8,201.2 C759.2,203.1 756.3,204.7 755.0,206.9 C753.7,209.1 753.3,212.0 753.2,214.5 C753.1,217.0 754.5,219.5 754.2,222.0 C753.9,224.5 752.7,227.7 751.3,229.6 C749.9,231.5 747.5,233.1 745.6,233.4 C743.7,233.7 741.6,232.8 740.0,231.5 C738.4,230.2 737.8,226.9 736.2,225.8 C734.6,224.7 732.4,224.6 730.5,224.9 C728.6,225.2 725.8,227.8 724.8,227.7 C723.8,227.5 723.5,225.9 724.8,224.0 C726.1,222.1 729.9,218.6 732.4,216.4 C734.9,214.2 737.5,212.6 740.0,210.7 C742.5,208.8 745.9,207.2 747.5,205.0 C749.1,202.8 748.9,199.9 749.4,197.4 C749.9,194.9 749.5,192.5 750.4,189.8 C751.3,187.1 753.3,183.3 755.0,181.3 C756.7,179.3 759.0,178.3 760.8,178.0Z" fill="#c41c00"/>
<path d="M749.5,225.5 C749.5,226.1 749.2,226.9 748.8,227.3 C748.4,227.7 747.6,228.0 747.0,228.0 C746.4,228.0 745.6,227.7 745.2,227.3 C744.8,226.9 744.5,226.1 744.5,225.5 C744.5,224.9 744.8,224.1 745.2,223.7 C745.6,223.3 746.4,223.0 747.0,223.0 C747.6,223.0 748.4,223.3 748.8,223.7 C749.2,224.1 749.5,224.9 749.5,225.5Z" fill="#ff7a00"/>
<path d="M670.8,217.3 C671.6,216.0 673.8,215.8 675.5,216.4 C677.2,217.0 680.0,219.4 681.2,221.0 C682.5,222.6 683.3,224.4 683.0,225.8 C682.7,227.2 680.9,228.7 679.3,229.2 C677.7,229.7 675.0,229.6 673.6,228.7 C672.2,227.8 671.3,225.9 670.8,224.0 C670.3,222.1 670.0,218.6 670.8,217.3Z" fill="#c41c00"/>
<path d="M683.4,209.3 C683.4,209.8 683.1,210.5 682.8,210.9 C682.4,211.2 681.7,211.5 681.2,211.5 C680.7,211.5 680.0,211.2 679.6,210.9 C679.3,210.5 679.0,209.8 679.0,209.3 C679.0,208.8 679.3,208.1 679.6,207.7 C680.0,207.4 680.7,207.1 681.2,207.1 C681.7,207.1 682.4,207.4 682.8,207.7 C683.1,208.1 683.4,208.8 683.4,209.3Z" fill="#c41c00"/>
<path d="M694.8,207.8 C694.8,208.7 694.4,210.0 693.9,210.6 C693.3,211.3 692.4,211.8 691.6,211.8 C690.8,211.8 689.9,211.3 689.3,210.6 C688.8,210.0 688.4,208.7 688.4,207.8 C688.4,206.9 688.8,205.6 689.3,205.0 C689.9,204.3 690.8,203.8 691.6,203.8 C692.4,203.8 693.3,204.3 693.9,205.0 C694.4,205.6 694.8,206.9 694.8,207.8Z" fill="#c41c00"/>
<path d="M694.2,216.4 C694.2,216.9 693.9,217.5 693.6,217.8 C693.3,218.1 692.7,218.4 692.2,218.4 C691.7,218.4 691.1,218.1 690.8,217.8 C690.5,217.5 690.2,216.9 690.2,216.4 C690.2,215.9 690.5,215.3 690.8,215.0 C691.1,214.7 691.7,214.4 692.2,214.4 C692.7,214.4 693.3,214.7 693.6,215.0 C693.9,215.3 694.2,215.9 694.2,216.4Z" fill="#c41c00"/>
<path d="M718.6,226.8 C718.6,227.2 718.4,227.8 718.1,228.1 C717.8,228.4 717.2,228.6 716.8,228.6 C716.4,228.6 715.8,228.4 715.5,228.1 C715.2,227.8 715.0,227.2 715.0,226.8 C715.0,226.4 715.2,225.8 715.5,225.5 C715.8,225.2 716.4,225.0 716.8,225.0 C717.2,225.0 717.8,225.2 718.1,225.5 C718.4,225.8 718.6,226.4 718.6,226.8Z" fill="#c41c00"/>
<path d="M637.9,246.1 C638.4,247.4 638.4,249.4 638.0,250.6 C637.5,251.8 636.4,253.0 635.3,253.4 C634.1,253.8 632.5,253.7 631.3,253.0 C630.2,252.3 629.0,250.8 628.5,249.5 C628.0,248.2 628.0,246.2 628.4,245.0 C628.9,243.8 630.0,242.6 631.1,242.2 C632.3,241.8 633.9,241.9 635.1,242.6 C636.2,243.3 637.4,244.8 637.9,246.1Z" fill="#c41c00"/>
<path d="M651.4,250.0 C652.4,247.1 657.3,246.7 660.2,245.0 C663.1,243.3 666.5,240.4 669.0,240.0 C671.5,239.6 674.0,240.5 675.2,242.6 C676.5,244.7 676.5,248.9 676.5,252.6 C676.5,256.3 676.5,261.6 675.2,265.0 C674.0,268.4 671.5,270.2 669.0,272.7 C666.5,275.2 662.5,279.6 660.2,280.0 C657.9,280.4 656.2,277.9 655.2,275.0 C654.2,272.1 654.6,266.8 654.0,262.6 C653.4,258.4 650.4,252.9 651.4,250.0Z" fill="#c41c00"/>
<path d="M694.0,281.4 C694.6,279.3 698.0,276.3 700.3,272.7 C702.6,269.1 705.7,262.7 707.8,260.0 C709.9,257.3 711.3,256.2 712.8,256.4 C714.3,256.6 715.4,260.4 716.6,261.4 C717.9,262.4 719.2,263.4 720.3,262.6 C721.3,261.8 722.5,258.9 722.9,256.4 C723.3,253.9 722.1,249.5 722.9,247.6 C723.7,245.7 725.8,244.8 727.9,245.0 C730.0,245.2 733.7,247.4 735.4,248.9 C737.1,250.4 737.9,251.6 737.9,253.9 C737.9,256.2 736.9,259.5 735.4,262.6 C733.9,265.7 730.9,269.4 729.0,272.7 C727.1,276.0 725.5,279.4 724.0,282.7 C722.5,286.0 722.0,289.3 720.3,292.7 C718.6,296.1 716.3,301.6 714.0,302.8 C711.7,304.0 709.1,301.7 706.6,300.0 C704.1,298.3 700.7,295.2 699.0,292.7 C697.3,290.2 697.3,287.1 696.5,285.2 C695.7,283.3 693.4,283.5 694.0,281.4Z" fill="#c41c00"/>
<path d="M683.5,286.5 C683.5,287.0 683.2,287.6 682.9,287.9 C682.6,288.2 682.0,288.5 681.5,288.5 C681.0,288.5 680.4,288.2 680.1,287.9 C679.8,287.6 679.5,287.0 679.5,286.5 C679.5,286.0 679.8,285.4 680.1,285.1 C680.4,284.8 681.0,284.5 681.5,284.5 C682.0,284.5 682.6,284.8 682.9,285.1 C683.2,285.4 683.5,286.0 683.5,286.5Z" fill="#c41c00"/>
<path d="M688.0,299.7 C688.0,300.5 687.6,301.4 687.1,302.0 C686.5,302.5 685.6,302.9 684.8,302.9 C684.0,302.9 683.1,302.5 682.5,302.0 C682.0,301.4 681.6,300.5 681.6,299.7 C681.6,298.9 682.0,298.0 682.5,297.4 C683.1,296.9 684.0,296.5 684.8,296.5 C685.6,296.5 686.5,296.9 687.1,297.4 C687.6,298.0 688.0,298.9 688.0,299.7Z" fill="#c41c00"/>
<path d="M598.5,297.0 C598.8,295.8 601.2,293.9 603.0,293.5 C604.8,293.1 607.8,293.7 609.0,294.5 C610.2,295.3 610.9,297.2 610.5,298.5 C610.1,299.8 608.0,302.2 606.5,302.5 C605.0,302.8 602.8,301.4 601.5,300.5 C600.2,299.6 598.2,298.2 598.5,297.0Z" fill="#c41c00"/>
<path d="M723.0,316.3 C723.1,317.5 723.0,319.0 722.7,319.9 C722.5,320.8 721.9,321.4 721.4,321.5 C721.0,321.5 720.3,320.9 719.9,320.1 C719.5,319.3 719.1,317.8 719.0,316.7 C718.9,315.5 719.0,314.0 719.3,313.1 C719.5,312.2 720.1,311.6 720.6,311.5 C721.0,311.5 721.7,312.1 722.1,312.9 C722.5,313.7 722.9,315.2 723.0,316.3Z" fill="#c41c00"/>
<path d="M538.1,259.4 C538.1,259.8 537.9,260.3 537.6,260.6 C537.3,260.9 536.8,261.1 536.4,261.1 C536.0,261.1 535.5,260.9 535.2,260.6 C534.9,260.3 534.7,259.8 534.7,259.4 C534.7,259.0 534.9,258.5 535.2,258.2 C535.5,257.9 536.0,257.7 536.4,257.7 C536.8,257.7 537.3,257.9 537.6,258.2 C537.9,258.5 538.1,259.0 538.1,259.4Z" fill="#c41c00"/>
<path d="M537.5,259.5 C537.5,259.9 537.3,260.3 537.1,260.6 C536.8,260.8 536.4,261.0 536.0,261.0 C535.6,261.0 535.2,260.8 534.9,260.6 C534.7,260.3 534.5,259.9 534.5,259.5 C534.5,259.1 534.7,258.7 534.9,258.4 C535.2,258.2 535.6,258.0 536.0,258.0 C536.4,258.0 536.8,258.2 537.1,258.4 C537.3,258.7 537.5,259.1 537.5,259.5Z" fill="#c41c00"/>
<path d="M783.7,185.0 C783.7,185.4 783.4,185.8 783.1,186.1 C782.8,186.3 782.2,186.5 781.7,186.5 C781.2,186.5 780.6,186.3 780.3,186.1 C780.0,185.8 779.7,185.4 779.7,185.0 C779.7,184.6 780.0,184.2 780.3,183.9 C780.6,183.7 781.2,183.5 781.7,183.5 C782.2,183.5 782.8,183.7 783.1,183.9 C783.4,184.2 783.7,184.6 783.7,185.0Z" fill="#c41c00"/>
<path d="M647.9,223.0 C647.9,223.2 647.8,223.5 647.6,223.6 C647.5,223.8 647.2,223.9 647.0,223.9 C646.8,223.9 646.5,223.8 646.4,223.6 C646.2,223.5 646.1,223.2 646.1,223.0 C646.1,222.8 646.2,222.5 646.4,222.4 C646.5,222.2 646.8,222.1 647.0,222.1 C647.2,222.1 647.5,222.2 647.6,222.4 C647.8,222.5 647.9,222.8 647.9,223.0Z" fill="#300000"/>
<path d="M642.8,260.9 C642.8,261.1 642.7,261.4 642.5,261.5 C642.4,261.7 642.1,261.8 641.9,261.8 C641.7,261.8 641.4,261.7 641.3,261.5 C641.1,261.4 641.0,261.1 641.0,260.9 C641.0,260.7 641.1,260.4 641.3,260.3 C641.4,260.1 641.7,260.0 641.9,260.0 C642.1,260.0 642.4,260.1 642.5,260.3 C642.7,260.4 642.8,260.7 642.8,260.9Z" fill="#300000"/>
<path d="M658.6,291.5 C658.6,291.7 658.5,292.0 658.3,292.1 C658.2,292.3 657.9,292.4 657.7,292.4 C657.5,292.4 657.2,292.3 657.1,292.1 C656.9,292.0 656.8,291.7 656.8,291.5 C656.8,291.3 656.9,291.0 657.1,290.9 C657.2,290.7 657.5,290.6 657.7,290.6 C657.9,290.6 658.2,290.7 658.3,290.9 C658.5,291.0 658.6,291.3 658.6,291.5Z" fill="#300000"/>
<path d="M617.2,306.0 C617.2,306.2 617.1,306.5 616.9,306.6 C616.8,306.8 616.5,306.9 616.3,306.9 C616.1,306.9 615.8,306.8 615.7,306.6 C615.5,306.5 615.4,306.2 615.4,306.0 C615.4,305.8 615.5,305.5 615.7,305.4 C615.8,305.2 616.1,305.1 616.3,305.1 C616.5,305.1 616.8,305.2 616.9,305.4 C617.1,305.5 617.2,305.8 617.2,306.0Z" fill="#300000"/>
<path d="M719.5,306.5 C719.5,306.7 719.4,307.0 719.2,307.1 C719.1,307.3 718.8,307.4 718.6,307.4 C718.4,307.4 718.1,307.3 718.0,307.1 C717.8,307.0 717.7,306.7 717.7,306.5 C717.7,306.3 717.8,306.0 718.0,305.9 C718.1,305.7 718.4,305.6 718.6,305.6 C718.8,305.6 719.1,305.7 719.2,305.9 C719.4,306.0 719.5,306.3 719.5,306.5Z" fill="#300000"/>
<path d="M732.0,306.0 C732.0,306.2 731.9,306.5 731.7,306.6 C731.6,306.8 731.3,306.9 731.1,306.9 C730.9,306.9 730.6,306.8 730.5,306.6 C730.3,306.5 730.2,306.2 730.2,306.0 C730.2,305.8 730.3,305.5 730.5,305.4 C730.6,305.2 730.9,305.1 731.1,305.1 C731.3,305.1 731.6,305.2 731.7,305.4 C731.9,305.5 732.0,305.8 732.0,306.0Z" fill="#300000"/>
<path d="M627.3,284.7 C627.3,284.9 627.2,285.2 627.0,285.3 C626.9,285.5 626.6,285.6 626.4,285.6 C626.2,285.6 625.9,285.5 625.8,285.3 C625.6,285.2 625.5,284.9 625.5,284.7 C625.5,284.5 625.6,284.2 625.8,284.1 C625.9,283.9 626.2,283.8 626.4,283.8 C626.6,283.8 626.9,283.9 627.0,284.1 C627.2,284.2 627.3,284.5 627.3,284.7Z" fill="#300000"/>
<path d="M648.1,223.3 C648.1,223.5 648.0,223.8 647.8,223.9 C647.7,224.1 647.4,224.2 647.2,224.2 C647.0,224.2 646.7,224.1 646.6,223.9 C646.4,223.8 646.3,223.5 646.3,223.3 C646.3,223.1 646.4,222.8 646.6,222.7 C646.7,222.5 647.0,222.4 647.2,222.4 C647.4,222.4 647.7,222.5 647.8,222.7 C648.0,222.8 648.1,223.1 648.1,223.3Z" fill="#300000"/>
<path d="M718.0,226.8 C718.0,227.0 717.9,227.3 717.7,227.4 C717.6,227.6 717.3,227.7 717.1,227.7 C716.9,227.7 716.6,227.6 716.5,227.4 C716.3,227.3 716.2,227.0 716.2,226.8 C716.2,226.6 716.3,226.3 716.5,226.2 C716.6,226.0 716.9,225.9 717.1,225.9 C717.3,225.9 717.6,226.0 717.7,226.2 C717.9,226.3 718.0,226.6 718.0,226.8Z" fill="#300000"/>
<path d="M587.2,240.6 C587.2,240.8 587.1,241.1 586.9,241.2 C586.8,241.4 586.5,241.5 586.3,241.5 C586.1,241.5 585.8,241.4 585.7,241.2 C585.5,241.1 585.4,240.8 585.4,240.6 C585.4,240.4 585.5,240.1 585.7,240.0 C585.8,239.8 586.1,239.7 586.3,239.7 C586.5,239.7 586.8,239.8 586.9,240.0 C587.1,240.1 587.2,240.4 587.2,240.6Z" fill="#300000"/>
<path d="M744.3,255.6 C744.3,255.8 744.2,256.1 744.0,256.2 C743.9,256.4 743.6,256.5 743.4,256.5 C743.2,256.5 742.9,256.4 742.8,256.2 C742.6,256.1 742.5,255.8 742.5,255.6 C742.5,255.4 742.6,255.1 742.8,255.0 C742.9,254.8 743.2,254.7 743.4,254.7 C743.6,254.7 743.9,254.8 744.0,255.0 C744.2,255.1 744.3,255.4 744.3,255.6Z" fill="#300000"/>
<path d="M601.9,168.8 C601.9,169.0 601.8,169.3 601.6,169.4 C601.5,169.6 601.2,169.7 601.0,169.7 C600.8,169.7 600.5,169.6 600.4,169.4 C600.2,169.3 600.1,169.0 600.1,168.8 C600.1,168.6 600.2,168.3 600.4,168.2 C600.5,168.0 600.8,167.9 601.0,167.9 C601.2,167.9 601.5,168.0 601.6,168.2 C601.8,168.3 601.9,168.6 601.9,168.8Z" fill="#300000"/>
<path d="M586.9,241.0 C586.9,241.2 586.8,241.5 586.6,241.6 C586.5,241.8 586.2,241.9 586.0,241.9 C585.8,241.9 585.5,241.8 585.4,241.6 C585.2,241.5 585.1,241.2 585.1,241.0 C585.1,240.8 585.2,240.5 585.4,240.4 C585.5,240.2 585.8,240.1 586.0,240.1 C586.2,240.1 586.5,240.2 586.6,240.4 C586.8,240.5 586.9,240.8 586.9,241.0Z" fill="#300000"/>
<path d="M644.3,125.0 C644.3,125.2 644.2,125.5 644.0,125.6 C643.9,125.8 643.6,125.9 643.4,125.9 C643.2,125.9 642.9,125.8 642.8,125.6 C642.6,125.5 642.5,125.2 642.5,125.0 C642.5,124.8 642.6,124.5 642.8,124.4 C642.9,124.2 643.2,124.1 643.4,124.1 C643.6,124.1 643.9,124.2 644.0,124.4 C644.2,124.5 644.3,124.8 644.3,125.0Z" fill="#300000"/>
<path d="M632.3,141.4 C632.3,141.6 632.2,141.9 632.0,142.0 C631.9,142.2 631.6,142.3 631.4,142.3 C631.2,142.3 630.9,142.2 630.8,142.0 C630.6,141.9 630.5,141.6 630.5,141.4 C630.5,141.2 630.6,140.9 630.8,140.8 C630.9,140.6 631.2,140.5 631.4,140.5 C631.6,140.5 631.9,140.6 632.0,140.8 C632.2,140.9 632.3,141.2 632.3,141.4Z" fill="#300000"/>
<path d="M537.4,199.0 C537.4,199.2 537.3,199.5 537.1,199.6 C537.0,199.8 536.7,199.9 536.5,199.9 C536.3,199.9 536.0,199.8 535.9,199.6 C535.7,199.5 535.6,199.2 535.6,199.0 C535.6,198.8 535.7,198.5 535.9,198.4 C536.0,198.2 536.3,198.1 536.5,198.1 C536.7,198.1 537.0,198.2 537.1,198.4 C537.3,198.5 537.4,198.8 537.4,199.0Z" fill="#300000"/>
<path d="M645.0,387.7 C645.3,386.4 647.3,384.4 648.0,383.0 C648.7,381.6 648.2,380.5 649.2,379.3 C650.2,378.1 653.0,377.1 654.0,375.7 C655.0,374.3 654.2,372.2 655.2,371.0 C656.2,369.8 658.4,369.7 660.0,368.5 C661.6,367.3 663.4,365.4 664.7,363.7 C666.0,362.0 666.7,359.9 667.7,358.4 C668.7,356.9 670.3,356.1 670.7,354.8 C671.1,353.5 669.6,352.0 670.0,350.6 C670.4,349.2 671.5,347.5 673.0,346.4 C674.5,345.3 676.8,344.6 679.0,344.0 C681.2,343.4 684.2,342.8 686.3,342.8 C688.4,342.8 690.5,343.2 691.7,344.0 C692.9,344.8 693.6,346.3 693.5,347.6 C693.4,348.9 692.2,350.6 691.0,351.8 C689.8,353.0 687.4,353.6 686.3,354.8 C685.2,356.0 684.9,357.5 684.5,359.0 C684.1,360.5 684.6,362.3 684.0,363.7 C683.4,365.1 682.0,366.1 681.0,367.3 C680.0,368.5 678.7,369.6 678.0,371.0 C677.3,372.4 677.7,374.2 676.7,375.7 C675.7,377.2 673.6,378.6 672.0,380.0 C670.4,381.4 668.6,383.1 667.0,384.0 C665.4,384.9 663.7,384.7 662.3,385.3 C660.9,385.9 660.2,387.2 658.8,387.7 C657.4,388.2 655.4,387.8 654.0,388.3 C652.6,388.8 651.7,390.3 650.4,390.7 C649.1,391.1 647.1,391.2 646.2,390.7 C645.3,390.2 644.7,389.0 645.0,387.7Z" fill="#c41c00"/>
<path d="M652.2,384.0 C651.9,383.4 651.9,381.9 652.8,381.0 C653.7,380.1 656.4,379.8 657.6,378.7 C658.8,377.6 658.8,375.8 660.0,374.5 C661.2,373.2 663.4,372.4 664.7,371.0 C666.0,369.6 666.7,367.8 667.7,366.0 C668.7,364.2 669.6,361.8 670.7,360.0 C671.8,358.2 673.3,357.0 674.3,355.4 C675.3,353.8 675.3,351.8 676.7,350.6 C678.1,349.4 681.1,349.0 682.7,348.2 C684.3,347.4 685.2,345.9 686.3,345.8 C687.4,345.7 689.1,346.8 689.3,347.6 C689.5,348.4 688.6,349.7 687.5,350.6 C686.4,351.5 683.9,351.8 682.7,353.0 C681.5,354.2 681.0,355.9 680.3,357.7 C679.6,359.5 679.3,361.7 678.5,363.7 C677.7,365.7 676.4,367.7 675.5,369.7 C674.6,371.7 674.2,373.9 673.0,375.7 C671.8,377.5 670.1,379.4 668.3,380.5 C666.5,381.6 664.1,381.9 662.3,382.3 C660.5,382.7 658.9,382.6 657.6,383.0 C656.3,383.4 655.5,384.5 654.6,384.7 C653.7,384.9 652.5,384.6 652.2,384.0Z" fill="#ff7a00"/>
<path d="M672.0,357.7 C672.7,356.5 674.3,354.9 675.0,354.8 C675.7,354.7 676.1,355.7 676.0,357.0 C675.9,358.3 675.0,361.2 674.3,362.5 C673.6,363.8 672.6,365.1 672.0,365.0 C671.4,364.9 670.7,363.2 670.7,362.0 C670.7,360.8 671.3,358.9 672.0,357.7Z" fill="#f0c010"/>
<path d="M669.0,369.7 C669.5,368.7 670.3,367.2 670.7,367.3 C671.1,367.4 671.4,369.1 671.3,370.3 C671.2,371.5 670.5,373.5 670.0,374.5 C669.5,375.5 668.7,376.5 668.3,376.3 C667.9,376.1 667.6,374.4 667.7,373.3 C667.8,372.2 668.5,370.7 669.0,369.7Z" fill="#f0c010"/>
<path d="M688.2,347.3 C688.2,347.6 688.0,348.0 687.8,348.2 C687.6,348.4 687.2,348.6 686.9,348.6 C686.6,348.6 686.2,348.4 686.0,348.2 C685.8,348.0 685.6,347.6 685.6,347.3 C685.6,347.0 685.8,346.6 686.0,346.4 C686.2,346.2 686.6,346.0 686.9,346.0 C687.2,346.0 687.6,346.2 687.8,346.4 C688.0,346.6 688.2,347.0 688.2,347.3Z" fill="#ff7a00"/>
<path d="M655.0,383.0 C655.0,383.3 654.8,383.7 654.6,383.9 C654.4,384.1 654.0,384.3 653.7,384.3 C653.4,384.3 653.0,384.1 652.8,383.9 C652.6,383.7 652.4,383.3 652.4,383.0 C652.4,382.7 652.6,382.3 652.8,382.1 C653.0,381.9 653.4,381.7 653.7,381.7 C654.0,381.7 654.4,381.9 654.6,382.1 C654.8,382.3 655.0,382.7 655.0,383.0Z" fill="#ff7a00"/>
<path d="M727.0,410.0 C725.3,407.8 728.2,407.5 729.9,405.0 C731.6,402.5 735.3,397.9 737.4,395.0 C739.5,392.1 740.3,388.5 742.4,387.4 C744.5,386.3 747.0,388.0 749.9,388.6 C752.8,389.2 757.5,389.1 760.0,391.0 C762.5,392.9 768.3,395.5 765.0,400.0 C761.7,404.5 746.3,416.3 740.0,418.0 C733.7,419.7 728.7,412.2 727.0,410.0Z" fill="#c41c00"/>
<path d="M734.5,406.5 C734.7,405.6 735.8,403.9 737.0,402.5 C738.2,401.1 740.2,399.2 742.0,398.0 C743.8,396.8 746.6,395.6 748.0,395.3 C749.4,395.0 750.8,395.5 750.5,396.3 C750.2,397.1 747.8,398.6 746.0,400.0 C744.2,401.4 741.7,403.2 740.0,404.5 C738.3,405.8 736.9,407.7 736.0,408.0 C735.1,408.3 734.3,407.4 734.5,406.5Z" fill="#ff7a00"/>
<path d="M704.9,395.5 C704.7,395.9 704.1,396.2 703.6,396.3 C703.1,396.3 702.4,396.1 701.9,395.9 C701.4,395.6 700.9,395.0 700.7,394.6 C700.5,394.1 700.5,393.5 700.7,393.1 C700.9,392.7 701.5,392.4 702.0,392.3 C702.5,392.3 703.2,392.5 703.7,392.7 C704.2,393.0 704.7,393.6 704.9,394.0 C705.1,394.5 705.1,395.1 704.9,395.5Z" fill="#ffffff"/>
<path d="M607.0,99.0 C607.7,96.1 608.2,98.4 610.0,97.5 C611.8,96.6 614.9,94.9 617.6,93.8 C620.3,92.7 624.7,89.1 626.4,91.0 C628.1,92.9 627.5,100.2 627.6,105.0 C627.7,109.8 627.2,115.8 627.0,120.0 C626.8,124.2 626.9,128.3 626.4,130.0 C625.9,131.7 624.7,131.0 623.9,130.0 C623.1,129.0 622.9,125.6 621.4,123.9 C619.9,122.2 617.1,120.4 615.0,120.0 C612.9,119.6 610.3,122.2 608.8,121.4 C607.3,120.6 606.3,118.7 606.0,115.0 C605.7,111.3 606.3,101.9 607.0,99.0Z" fill="#ff7a00"/>
<path d="M619.8,104.3 C619.8,104.7 619.6,105.3 619.3,105.6 C619.0,105.9 618.4,106.1 618.0,106.1 C617.6,106.1 617.0,105.9 616.7,105.6 C616.4,105.3 616.2,104.7 616.2,104.3 C616.2,103.9 616.4,103.3 616.7,103.0 C617.0,102.7 617.6,102.5 618.0,102.5 C618.4,102.5 619.0,102.7 619.3,103.0 C619.6,103.3 619.8,103.9 619.8,104.3Z" fill="#f0c010"/>
<path d="M679.0,130.0 C677.5,130.9 675.1,136.0 674.7,138.5 C674.3,141.0 675.1,143.1 676.5,145.0 C677.9,146.9 680.5,148.5 682.8,150.0 C685.1,151.5 688.2,152.3 690.3,154.0 C692.4,155.7 693.6,157.9 695.3,160.0 C697.0,162.1 698.8,165.1 700.3,166.5 C701.8,167.9 703.3,168.7 704.6,168.4 C705.9,168.1 707.7,166.3 708.0,164.5 C708.3,162.7 707.5,159.9 706.6,157.7 C705.7,155.4 703.7,153.1 702.5,151.0 C701.3,148.9 700.2,147.3 699.5,145.0 C698.8,142.7 698.4,140.0 698.0,137.0 C697.6,134.0 698.3,127.3 697.0,127.0 C695.7,126.7 692.5,134.0 690.3,135.0 C688.1,136.0 685.9,133.8 684.0,133.0 C682.1,132.2 680.5,129.1 679.0,130.0Z" fill="#ff7a00"/>
<path d="M679.0,138.9 C679.0,137.7 680.9,136.4 682.8,136.4 C684.7,136.4 689.3,137.9 690.3,138.9 C691.3,139.9 690.2,141.9 689.0,142.7 C687.8,143.5 684.5,144.5 682.8,143.9 C681.1,143.3 679.0,140.2 679.0,138.9Z" fill="#f0c010"/>
<path d="M710.3,152.7 C711.1,152.3 714.3,155.8 716.6,156.4 C718.9,157.0 722.5,155.8 724.0,156.4 C725.5,157.0 726.4,159.4 725.4,160.2 C724.4,161.0 720.1,161.6 717.8,161.4 C715.5,161.2 712.9,160.4 711.6,159.0 C710.4,157.6 709.5,153.1 710.3,152.7Z" fill="#ff7a00"/>
<path d="M510.0,140.0 C513.3,134.2 530.8,136.4 535.0,140.0 C539.2,143.6 534.2,157.5 535.3,161.3 C536.4,165.1 540.0,160.7 541.5,162.6 C543.0,164.5 543.0,169.3 544.0,172.6 C545.0,175.9 546.3,179.9 547.8,182.6 C549.3,185.3 552.4,187.0 552.8,188.9 C553.2,190.8 552.0,192.9 550.3,193.9 C548.6,194.9 545.3,195.0 542.8,195.0 C540.3,195.0 537.6,194.7 535.3,193.9 C533.0,193.1 530.7,191.5 529.0,190.0 C527.3,188.5 527.6,187.5 525.3,185.0 C523.0,182.5 517.5,182.5 515.0,175.0 C512.5,167.5 506.7,145.8 510.0,140.0Z" fill="#ff7a00"/>
<path d="M531.8,157.0 C531.8,158.2 531.1,159.9 530.2,160.7 C529.4,161.6 527.7,162.3 526.5,162.3 C525.3,162.3 523.6,161.6 522.8,160.7 C521.9,159.9 521.2,158.2 521.2,157.0 C521.2,155.8 521.9,154.1 522.8,153.3 C523.6,152.4 525.3,151.7 526.5,151.7 C527.7,151.7 529.4,152.4 530.2,153.3 C531.1,154.1 531.8,155.8 531.8,157.0Z" fill="#f0c010"/>
<path d="M527.0,157.0 C527.0,157.1 527.0,157.3 526.9,157.4 C526.8,157.5 526.6,157.6 526.5,157.6 C526.4,157.6 526.2,157.5 526.1,157.4 C526.0,157.3 526.0,157.1 526.0,157.0 C526.0,156.9 526.0,156.7 526.1,156.6 C526.2,156.5 526.4,156.4 526.5,156.4 C526.6,156.4 526.8,156.5 526.9,156.6 C527.0,156.7 527.0,156.9 527.0,157.0Z" fill="#300000"/>
<path d="M541.3,185.6 C541.3,186.3 540.9,187.2 540.4,187.7 C539.9,188.2 539.0,188.6 538.3,188.6 C537.6,188.6 536.7,188.2 536.2,187.7 C535.7,187.2 535.3,186.3 535.3,185.6 C535.3,184.9 535.7,184.0 536.2,183.5 C536.7,183.0 537.6,182.6 538.3,182.6 C539.0,182.6 539.9,183.0 540.4,183.5 C540.9,184.0 541.3,184.9 541.3,185.6Z" fill="#f0c010"/>
<path d="M430.0,180.0 C436.8,169.3 472.2,175.1 480.7,176.0 C489.1,176.9 480.2,182.6 480.7,185.4 C481.1,188.2 482.0,190.2 483.4,192.6 C484.8,195.0 486.7,197.7 488.8,199.8 C490.9,201.9 493.6,203.4 496.0,205.2 C498.4,207.0 500.5,208.5 503.2,210.6 C505.9,212.7 509.2,215.7 512.2,217.8 C515.2,219.9 518.5,221.2 521.2,223.2 C523.9,225.1 526.5,227.1 528.3,229.5 C530.1,231.9 531.7,235.1 532.0,237.6 C532.3,240.1 531.2,242.5 530.0,244.7 C528.8,246.9 526.5,249.3 524.7,251.0 C522.9,252.7 521.2,253.6 519.4,254.6 C517.6,255.6 516.4,255.4 514.0,257.0 C511.6,258.6 517.3,266.8 505.0,264.0 C492.7,261.2 452.5,254.0 440.0,240.0 C427.5,226.0 423.2,190.7 430.0,180.0Z" fill="#ff7a00"/>
<path d="M434.0,199.0 C434.3,195.8 439.3,196.2 442.0,195.0 C444.7,193.8 447.3,192.8 450.0,192.0 C452.7,191.2 455.4,190.4 458.0,190.5 C460.6,190.6 462.7,191.5 465.4,192.6 C468.1,193.7 471.4,195.3 474.4,197.0 C477.4,198.7 480.7,200.2 483.4,202.5 C486.1,204.8 488.5,207.8 490.6,210.6 C492.7,213.4 493.9,216.8 496.0,219.6 C498.1,222.4 500.9,225.3 503.2,227.7 C505.4,230.1 508.0,231.8 509.5,234.0 C511.0,236.2 512.1,238.9 512.2,241.0 C512.4,243.1 511.4,245.2 510.4,246.5 C509.3,247.8 507.5,248.4 505.9,248.5 C504.2,248.6 503.1,248.2 500.5,247.0 C497.9,245.8 495.1,242.8 490.0,241.0 C484.9,239.2 476.3,238.5 470.0,236.0 C463.7,233.5 457.0,229.7 452.0,226.0 C447.0,222.3 443.0,218.5 440.0,214.0 C437.0,209.5 433.7,202.2 434.0,199.0Z" fill="#f0c010"/>
<path d="M434.0,211.0 C435.5,209.7 442.0,212.0 445.0,213.0 C448.0,214.0 450.0,215.5 452.0,217.0 C454.0,218.5 456.3,220.0 457.0,222.0 C457.7,224.0 457.5,227.8 456.0,229.0 C454.5,230.2 451.3,230.3 448.0,229.0 C444.7,227.7 438.3,224.0 436.0,221.0 C433.7,218.0 432.5,212.3 434.0,211.0Z" fill="#ff7a00"/>
<path d="M446.3,199.9 C446.7,199.0 447.5,197.9 449.0,197.2 C450.5,196.5 453.4,195.7 455.3,195.8 C457.2,195.9 458.9,196.5 460.7,197.6 C462.5,198.7 463.9,200.9 466.0,202.6 C468.1,204.3 470.9,206.3 473.2,208.0 C475.4,209.7 477.2,211.2 479.5,212.5 C481.8,213.8 485.1,214.7 486.7,216.0 C488.3,217.3 488.6,219.0 489.4,220.5 C490.1,222.0 491.3,223.8 491.2,225.0 C491.1,226.2 490.0,227.1 488.5,227.7 C487.0,228.3 484.3,228.9 482.2,228.6 C480.1,228.3 478.1,226.7 476.0,226.0 C473.9,225.3 471.9,225.4 469.6,224.6 C467.4,223.8 464.3,222.8 462.5,221.4 C460.7,220.0 459.6,217.8 458.9,216.0 C458.1,214.2 458.8,212.3 458.0,210.7 C457.2,209.1 455.9,207.2 454.4,206.2 C452.9,205.1 450.3,205.0 449.0,204.4 C447.7,203.8 447.1,203.3 446.7,202.6 C446.2,201.8 445.9,200.8 446.3,199.9Z" fill="#c8ff10"/>
<path d="M480.8,223.6 C480.1,224.6 478.3,225.3 476.5,225.2 C474.7,225.1 472.0,224.1 470.1,222.9 C468.3,221.8 466.3,219.6 465.4,218.1 C464.6,216.5 464.5,214.5 465.2,213.4 C465.9,212.4 467.7,211.7 469.5,211.8 C471.3,211.9 474.0,212.9 475.9,214.1 C477.7,215.2 479.7,217.4 480.6,218.9 C481.4,220.5 481.5,222.5 480.8,223.6Z" fill="#60ff10"/>
<path d="M471.0,216.7 C471.0,217.2 470.7,217.8 470.4,218.1 C470.1,218.4 469.5,218.7 469.0,218.7 C468.5,218.7 467.9,218.4 467.6,218.1 C467.3,217.8 467.0,217.2 467.0,216.7 C467.0,216.2 467.3,215.6 467.6,215.3 C467.9,215.0 468.5,214.7 469.0,214.7 C469.5,214.7 470.1,215.0 470.4,215.3 C470.7,215.6 471.0,216.2 471.0,216.7Z" fill="#58f010"/>
<path d="M479.1,221.6 C479.1,222.0 478.9,222.4 478.7,222.7 C478.4,222.9 478.0,223.1 477.6,223.1 C477.2,223.1 476.8,222.9 476.5,222.7 C476.3,222.4 476.1,222.0 476.1,221.6 C476.1,221.2 476.3,220.8 476.5,220.5 C476.8,220.3 477.2,220.1 477.6,220.1 C478.0,220.1 478.4,220.3 478.7,220.5 C478.9,220.8 479.1,221.2 479.1,221.6Z" fill="#58f010"/>
<path d="M460.3,202.0 C460.3,202.2 460.2,202.5 460.0,202.7 C459.8,202.9 459.5,203.0 459.3,203.0 C459.1,203.0 458.8,202.9 458.6,202.7 C458.4,202.5 458.3,202.2 458.3,202.0 C458.3,201.8 458.4,201.5 458.6,201.3 C458.8,201.1 459.1,201.0 459.3,201.0 C459.5,201.0 459.8,201.1 460.0,201.3 C460.2,201.5 460.3,201.8 460.3,202.0Z" fill="#300000"/>
<path d="M494.0,229.0 C494.0,229.2 493.9,229.5 493.7,229.7 C493.5,229.9 493.2,230.0 493.0,230.0 C492.8,230.0 492.5,229.9 492.3,229.7 C492.1,229.5 492.0,229.2 492.0,229.0 C492.0,228.8 492.1,228.5 492.3,228.3 C492.5,228.1 492.8,228.0 493.0,228.0 C493.2,228.0 493.5,228.1 493.7,228.3 C493.9,228.5 494.0,228.8 494.0,229.0Z" fill="#300000"/>
</g>
<use href="#ol" transform="translate(406,-11.44) scale(1,1.0176)" fill="none" stroke="#000" stroke-width="1.7" stroke-linejoin="round"/>
<g stroke="#000" stroke-width="1.1"><ellipse cx="431.0" cy="199.8" rx="1.1" ry="1.0" fill="#ff7a00"/><ellipse cx="433.5" cy="201.7" rx="0.7" ry="0.7" fill="#ff7a00"/><ellipse cx="437.0" cy="217.2" rx="1.3" ry="0.9" fill="#ff7a00"/><ellipse cx="481.0" cy="245.0" rx="2.0" ry="1.1" fill="#ff7a00"/><ellipse cx="487.5" cy="243.5" rx="0.8" ry="0.8" fill="#ff7a00"/><ellipse cx="489.5" cy="246.0" rx="0.7" ry="0.7" fill="#ff7a00"/><ellipse cx="505.8" cy="258.7" rx="1.3" ry="2.3" fill="#c41c00"/><ellipse cx="503.6" cy="269.9" rx="1.5" ry="0.9" fill="#c41c00"/><ellipse cx="507.5" cy="273.0" rx="0.8" ry="0.8" fill="#c41c00"/><ellipse cx="475.0" cy="234.8" rx="0.9" ry="0.7" fill="#f0c010"/><ellipse cx="494.0" cy="242.5" rx="0.9" ry="0.7" fill="#ff7a00"/><ellipse cx="733.0" cy="412.4" rx="1.0" ry="0.6" fill="#c41c00"/><ellipse cx="737.5" cy="411.7" rx="1.2" ry="0.6" fill="#c41c00"/><path d="M525.8,288.5 L533.3,291.3" stroke-width="1.8" fill="none"/></g>
</g>

<!-- titles -->
<g fill="#0a4b9b" stroke="#0a4b9b" stroke-width="0.45" font-weight="bold" font-family="Liberation Sans, sans-serif">
<text x="79.8" y="35.6" font-size="20.8" textLength="284" lengthAdjust="spacingAndGlyphs">Ecart à la normale 1981-2010</text>
<text x="85.6" y="57.8" font-size="20.8" textLength="270.5" lengthAdjust="spacingAndGlyphs">de la température moyenne</text>
<text x="163.8" y="75.2" font-size="15.8" textLength="114.6" lengthAdjust="spacingAndGlyphs">(degrés Celsius)</text>
<text x="466.6" y="35.1" font-size="20.8" textLength="323.4" lengthAdjust="spacingAndGlyphs">Hauteur totale des précipitations</text>
<text x="581" y="52.5" font-size="15.8" textLength="95" lengthAdjust="spacingAndGlyphs">(millimètres)</text>
</g>
<!-- logos -->
<defs>
<linearGradient id="lg" x1="0" x2="1" y1="0" y2="0"><stop offset="0" stop-color="#1f5aaa"/><stop offset="0.6" stop-color="#3f78c0"/><stop offset="1" stop-color="#a8c6e8"/></linearGradient>
<linearGradient id="lg2" x1="0" x2="1" y1="0" y2="0"><stop offset="0" stop-color="#eef3fb"/><stop offset="0.35" stop-color="#c4d6ee"/><stop offset="0.7" stop-color="#4a80c4"/><stop offset="1" stop-color="#1f5cae"/></linearGradient>
<g id="logo">
<rect x="0" y="0" width="10.8" height="11" fill="url(#lg)"/>
<circle cx="5.6" cy="5.8" r="4.3" fill="url(#lg2)"/>
<circle cx="8.6" cy="2.7" r="1.15" fill="#e01818"/>
<text x="15.5" y="8.8" font-size="9.3" font-weight="bold" fill="#0c4a9e" stroke="#0c4a9e" stroke-width="0.25" textLength="75.4" lengthAdjust="spacingAndGlyphs">METEO FRANCE</text>
</g>
</defs>
<use href="#logo" x="33" y="109"/>
<use href="#logo" x="443" y="104.3"/>
<g fill="#777"><rect x="20.9" y="93.8" width="1" height="1"/><rect x="420.0" y="94.0" width="1" height="1"/><rect x="20.9" y="477.5" width="1" height="1"/><rect x="426.9" y="83.9" width="1" height="1"/><rect x="826.0" y="83.9" width="1" height="1"/><rect x="426.9" y="473.9" width="1" height="1"/><rect x="826.0" y="473.9" width="1" height="1"/></g><rect x="420" y="477.5" width="1" height="1.5" fill="#c8d4e8"/><rect x="424" y="93" width="1" height="9.2" fill="#a8c4e4"/>
<rect x="64.2" y="292.00" width="10.0" height="12.15" fill="#6e0a0a" stroke="#111" stroke-width="0.9"/>
<rect x="64.2" y="304.15" width="10.0" height="12.15" fill="#8b1418" stroke="#111" stroke-width="0.9"/>
<rect x="64.2" y="316.31" width="10.0" height="12.15" fill="#c41e28" stroke="#111" stroke-width="0.9"/>
<rect x="64.2" y="328.46" width="10.0" height="12.15" fill="#ee2424" stroke="#111" stroke-width="0.9"/>
<rect x="64.2" y="340.62" width="10.0" height="12.15" fill="#e85058" stroke="#111" stroke-width="0.9"/>
<rect x="64.2" y="352.77" width="10.0" height="12.15" fill="#f08088" stroke="#111" stroke-width="0.9"/>
<rect x="64.2" y="364.93" width="10.0" height="12.15" fill="#f8d0d0" stroke="#111" stroke-width="0.9"/>
<rect x="64.2" y="377.08" width="10.0" height="12.15" fill="#e4f6fc" stroke="#111" stroke-width="0.9"/>
<rect x="64.2" y="389.24" width="10.0" height="12.15" fill="#c8e4f8" stroke="#111" stroke-width="0.9"/>
<rect x="64.2" y="401.39" width="10.0" height="12.15" fill="#80d4f8" stroke="#111" stroke-width="0.9"/>
<rect x="64.2" y="413.55" width="10.0" height="12.15" fill="#48b8f0" stroke="#111" stroke-width="0.9"/>
<rect x="64.2" y="425.70" width="10.0" height="12.15" fill="#38a0e0" stroke="#111" stroke-width="0.9"/>
<rect x="64.2" y="437.86" width="10.0" height="12.15" fill="#2888d0" stroke="#111" stroke-width="0.9"/>
<rect x="64.2" y="450.01" width="10.0" height="12.15" fill="#2060a0" stroke="#111" stroke-width="0.9"/>
<text transform="translate(59.8,296.20) scale(0.84,1)" font-size="10" text-anchor="end" fill="#15153c" stroke="#15153c" stroke-width="0.2">10</text>
<text transform="translate(59.8,308.36) scale(0.84,1)" font-size="10" text-anchor="end" fill="#15153c" stroke="#15153c" stroke-width="0.2">7</text>
<text transform="translate(59.8,320.51) scale(0.84,1)" font-size="10" text-anchor="end" fill="#15153c" stroke="#15153c" stroke-width="0.2">5</text>
<text transform="translate(59.8,332.67) scale(0.84,1)" font-size="10" text-anchor="end" fill="#15153c" stroke="#15153c" stroke-width="0.2">4</text>
<text transform="translate(59.8,344.82) scale(0.84,1)" font-size="10" text-anchor="end" fill="#15153c" stroke="#15153c" stroke-width="0.2">3</text>
<text transform="translate(59.8,356.98) scale(0.84,1)" font-size="10" text-anchor="end" fill="#15153c" stroke="#15153c" stroke-width="0.2">2</text>
<text transform="translate(59.8,369.13) scale(0.84,1)" font-size="10" text-anchor="end" fill="#15153c" stroke="#15153c" stroke-width="0.2">1</text>
<text transform="translate(59.8,381.29) scale(0.84,1)" font-size="10" text-anchor="end" fill="#15153c" stroke="#15153c" stroke-width="0.2">0</text>
<text transform="translate(59.8,393.44) scale(0.84,1)" font-size="10" text-anchor="end" fill="#15153c" stroke="#15153c" stroke-width="0.2">-1</text>
<text transform="translate(59.8,405.60) scale(0.84,1)" font-size="10" text-anchor="end" fill="#15153c" stroke="#15153c" stroke-width="0.2">-2</text>
<text transform="translate(59.8,417.75) scale(0.84,1)" font-size="10" text-anchor="end" fill="#15153c" stroke="#15153c" stroke-width="0.2">-3</text>
<text transform="translate(59.8,429.91) scale(0.84,1)" font-size="10" text-anchor="end" fill="#15153c" stroke="#15153c" stroke-width="0.2">-4</text>
<text transform="translate(59.8,442.06) scale(0.84,1)" font-size="10" text-anchor="end" fill="#15153c" stroke="#15153c" stroke-width="0.2">-5</text>
<text transform="translate(59.8,454.22) scale(0.84,1)" font-size="10" text-anchor="end" fill="#15153c" stroke="#15153c" stroke-width="0.2">-7</text>
<text transform="translate(59.8,466.37) scale(0.84,1)" font-size="10" text-anchor="end" fill="#15153c" stroke="#15153c" stroke-width="0.2">-10</text><rect x="464.7" y="250.50" width="10.7" height="11.07" fill="#c050b0" stroke="#111" stroke-width="0.9"/>
<rect x="464.7" y="261.57" width="10.7" height="11.07" fill="#9040a8" stroke="#111" stroke-width="0.9"/>
<rect x="464.7" y="272.64" width="10.7" height="11.07" fill="#7a48a0" stroke="#111" stroke-width="0.9"/>
<rect x="464.7" y="283.71" width="10.7" height="11.07" fill="#2858a8" stroke="#111" stroke-width="0.9"/>
<rect x="464.7" y="294.78" width="10.7" height="11.07" fill="#4050a0" stroke="#111" stroke-width="0.9"/>
<rect x="464.7" y="305.85" width="10.7" height="11.07" fill="#4078c0" stroke="#111" stroke-width="0.9"/>
<rect x="464.7" y="316.92" width="10.7" height="11.07" fill="#4090d0" stroke="#111" stroke-width="0.9"/>
<rect x="464.7" y="327.99" width="10.7" height="11.07" fill="#40a8e0" stroke="#111" stroke-width="0.9"/>
<rect x="464.7" y="339.06" width="10.7" height="11.07" fill="#40b8f0" stroke="#111" stroke-width="0.9"/>
<rect x="464.7" y="350.13" width="10.7" height="11.07" fill="#58b0e0" stroke="#111" stroke-width="0.9"/>
<rect x="464.7" y="361.20" width="10.7" height="11.07" fill="#48b048" stroke="#111" stroke-width="0.9"/>
<rect x="464.7" y="372.27" width="10.7" height="11.07" fill="#78c038" stroke="#111" stroke-width="0.9"/>
<rect x="464.7" y="383.34" width="10.7" height="11.07" fill="#b8d430" stroke="#111" stroke-width="0.9"/>
<rect x="464.7" y="394.41" width="10.7" height="11.07" fill="#f0c030" stroke="#111" stroke-width="0.9"/>
<rect x="464.7" y="405.48" width="10.7" height="11.07" fill="#f88028" stroke="#111" stroke-width="0.9"/>
<rect x="464.7" y="416.55" width="10.7" height="11.07" fill="#c82028" stroke="#111" stroke-width="0.9"/>
<rect x="464.7" y="427.62" width="10.7" height="11.07" fill="#701010" stroke="#111" stroke-width="0.9"/>
<text transform="translate(459.6,254.70) scale(0.84,1)" font-size="10" text-anchor="end" fill="#15153c" stroke="#15153c" stroke-width="0.2">1000</text>
<text transform="translate(459.6,265.77) scale(0.84,1)" font-size="10" text-anchor="end" fill="#15153c" stroke="#15153c" stroke-width="0.2">900</text>
<text transform="translate(459.6,276.84) scale(0.84,1)" font-size="10" text-anchor="end" fill="#15153c" stroke="#15153c" stroke-width="0.2">800</text>
<text transform="translate(459.6,287.91) scale(0.84,1)" font-size="10" text-anchor="end" fill="#15153c" stroke="#15153c" stroke-width="0.2">700</text>
<text transform="translate(459.6,298.98) scale(0.84,1)" font-size="10" text-anchor="end" fill="#15153c" stroke="#15153c" stroke-width="0.2">600</text>
<text transform="translate(459.6,310.05) scale(0.84,1)" font-size="10" text-anchor="end" fill="#15153c" stroke="#15153c" stroke-width="0.2">500</text>
<text transform="translate(459.6,321.12) scale(0.84,1)" font-size="10" text-anchor="end" fill="#15153c" stroke="#15153c" stroke-width="0.2">400</text>
<text transform="translate(459.6,332.19) scale(0.84,1)" font-size="10" text-anchor="end" fill="#15153c" stroke="#15153c" stroke-width="0.2">300</text>
<text transform="translate(459.6,343.26) scale(0.84,1)" font-size="10" text-anchor="end" fill="#15153c" stroke="#15153c" stroke-width="0.2">250</text>
<text transform="translate(459.6,354.33) scale(0.84,1)" font-size="10" text-anchor="end" fill="#15153c" stroke="#15153c" stroke-width="0.2">200</text>
<text transform="translate(459.6,365.40) scale(0.84,1)" font-size="10" text-anchor="end" fill="#15153c" stroke="#15153c" stroke-width="0.2">175</text>
<text transform="translate(459.6,376.47) scale(0.84,1)" font-size="10" text-anchor="end" fill="#15153c" stroke="#15153c" stroke-width="0.2">150</text>
<text transform="translate(459.6,387.54) scale(0.84,1)" font-size="10" text-anchor="end" fill="#15153c" stroke="#15153c" stroke-width="0.2">125</text>
<text transform="translate(459.6,398.61) scale(0.84,1)" font-size="10" text-anchor="end" fill="#15153c" stroke="#15153c" stroke-width="0.2">100</text>
<text transform="translate(459.6,409.68) scale(0.84,1)" font-size="10" text-anchor="end" fill="#15153c" stroke="#15153c" stroke-width="0.2">75</text>
<text transform="translate(459.6,420.75) scale(0.84,1)" font-size="10" text-anchor="end" fill="#15153c" stroke="#15153c" stroke-width="0.2">50</text>
<text transform="translate(459.6,431.82) scale(0.84,1)" font-size="10" text-anchor="end" fill="#15153c" stroke="#15153c" stroke-width="0.2">25</text>
<text transform="translate(459.6,442.89) scale(0.84,1)" font-size="10" text-anchor="end" fill="#15153c" stroke="#15153c" stroke-width="0.2">0</text>
</svg>
</body></html>
